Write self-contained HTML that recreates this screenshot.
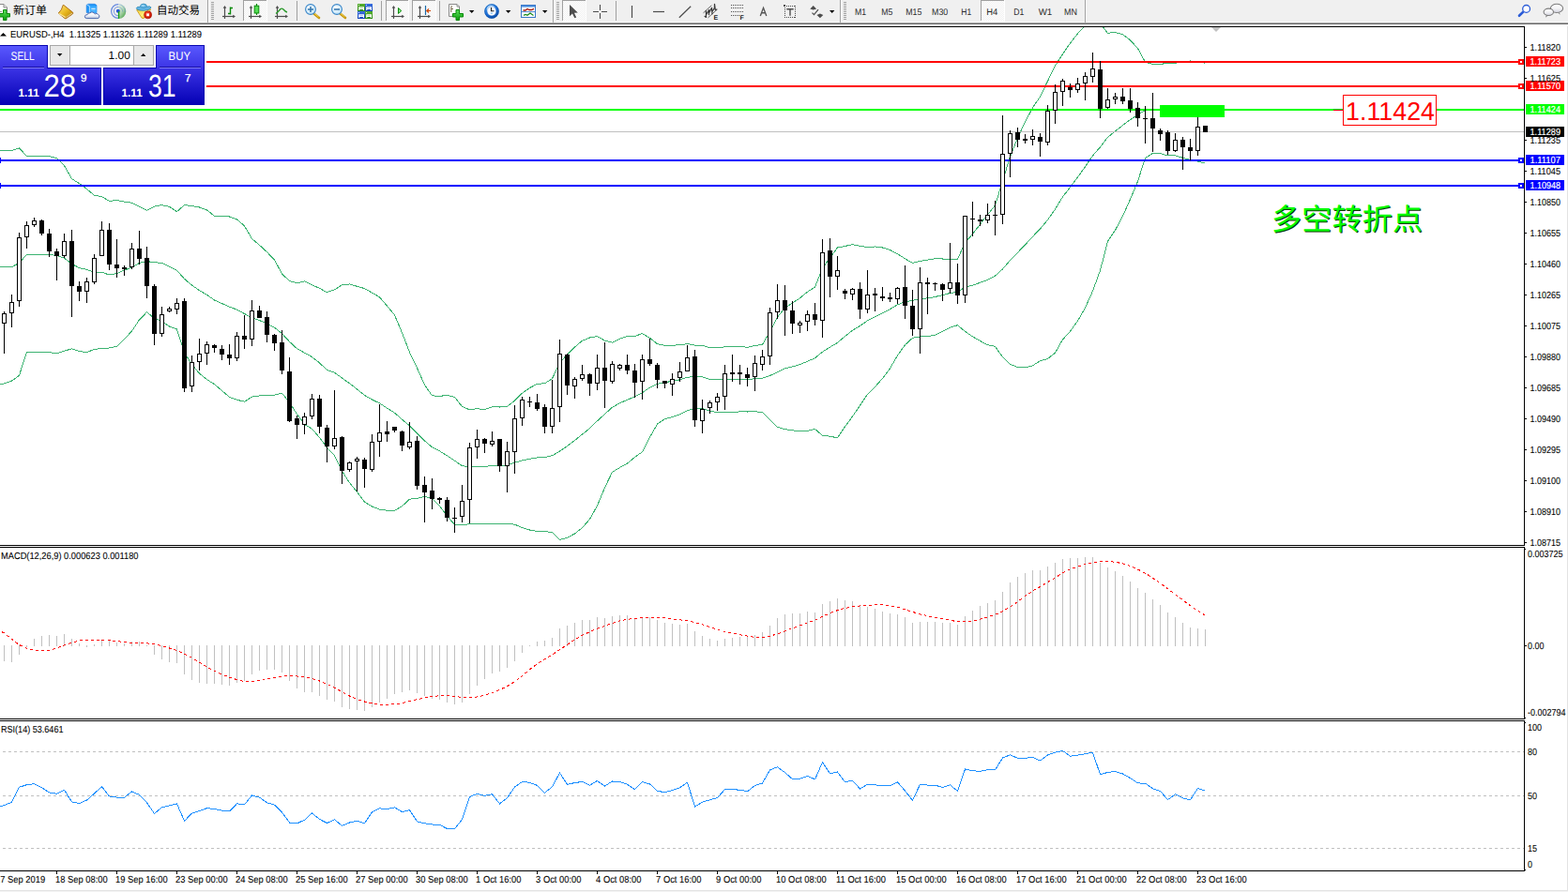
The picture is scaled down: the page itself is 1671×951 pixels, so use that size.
<!DOCTYPE html><html><head><meta charset="utf-8"><title>EURUSD H4</title><style>html,body{margin:0;padding:0;background:#fff}body{width:1671px;height:951px;overflow:hidden;position:relative;font-family:"Liberation Sans",sans-serif}svg{display:block}text{font-family:"Liberation Sans",sans-serif}</style></head><body>
<svg width="1671" height="951" viewBox="0 0 1671 951" style="position:absolute;left:0;top:0" text-rendering="geometricPrecision" font-family="'Liberation Sans', sans-serif">
<defs><clipPath id="cm"><rect x="0" y="29" width="1624" height="552"/></clipPath><clipPath id="cd"><rect x="0" y="584" width="1624" height="181"/></clipPath><clipPath id="cr"><rect x="0" y="769" width="1624" height="159"/></clipPath></defs>
<g clip-path="url(#cm)" shape-rendering="crispEdges">
<polyline points="-3.5,160.8 4.5,160.7 12.5,160.5 20.5,158.0 28.5,166.4 36.5,166.4 44.5,166.4 52.5,166.6 60.5,168.5 68.5,176.7 76.5,190.6 84.5,195.6 92.5,201.5 100.5,208.2 108.5,209.5 116.5,214.5 124.5,213.5 132.5,215.2 140.5,216.2 148.5,220.4 156.5,224.3 164.5,220.1 172.5,218.6 180.5,220.3 188.5,225.7 196.5,218.5 204.5,219.6 212.5,221.0 220.5,223.9 228.5,230.3 236.5,230.7 244.5,231.0 252.5,233.9 260.5,240.8 268.5,254.5 276.5,261.3 284.5,268.7 292.5,277.1 300.5,292.0 308.5,299.5 316.5,301.8 324.5,299.8 332.5,303.8 340.5,307.4 348.5,311.7 356.5,308.8 364.5,303.8 372.5,302.9 380.5,305.3 388.5,307.6 396.5,312.1 404.5,316.8 412.5,326.2 420.5,335.9 428.5,354.8 436.5,375.6 444.5,392.4 452.5,410.4 460.5,421.8 468.5,422.5 476.5,421.2 484.5,423.4 492.5,433.5 500.5,436.8 508.5,435.7 516.5,436.6 524.5,433.8 532.5,434.0 540.5,433.4 548.5,427.1 556.5,419.2 564.5,413.6 572.5,409.3 580.5,408.8 588.5,403.7 596.5,386.4 604.5,378.1 612.5,370.1 620.5,363.3 628.5,360.0 636.5,358.6 644.5,363.2 652.5,365.2 660.5,361.1 668.5,358.4 676.5,358.4 684.5,355.6 692.5,360.3 700.5,366.7 708.5,368.4 716.5,368.2 724.5,367.8 732.5,366.6 740.5,368.2 748.5,368.2 756.5,370.7 764.5,370.4 772.5,369.9 780.5,369.9 788.5,369.4 796.5,370.3 804.5,368.5 812.5,367.3 820.5,353.5 828.5,338.2 836.5,328.1 844.5,323.1 852.5,317.8 860.5,311.1 868.5,306.3 876.5,285.8 884.5,274.9 892.5,264.0 900.5,262.5 908.5,260.6 916.5,262.4 924.5,263.4 932.5,263.0 940.5,264.0 948.5,266.5 956.5,270.7 964.5,275.8 972.5,280.4 980.5,278.4 988.5,277.1 996.5,275.7 1004.5,276.0 1012.5,276.0 1020.5,276.4 1028.5,258.6 1036.5,249.6 1044.5,239.1 1052.5,228.8 1060.5,218.9 1068.5,193.2 1076.5,166.9 1084.5,146.9 1092.5,130.0 1100.5,114.8 1108.5,103.1 1116.5,86.5 1124.5,70.1 1132.5,57.7 1140.5,46.0 1148.5,35.8 1156.5,27.4 1164.5,21.8 1172.5,25.2 1180.5,35.3 1188.5,34.5 1196.5,36.8 1204.5,42.8 1212.5,51.6 1220.5,66.2 1228.5,68.5 1236.5,68.5 1244.5,67.2 1252.5,67.2 1260.5,66.1 1268.5,65.0 1276.5,65.4 1284.5,67.5" fill="none" stroke="#3cb371" stroke-width="1" />
<polyline points="-3.5,284.6 4.5,284.6 12.5,284.6 20.5,280.4 28.5,271.3 36.5,271.3 44.5,271.3 52.5,271.3 60.5,272.6 68.5,275.1 76.5,281.4 84.5,285.6 92.5,287.3 100.5,290.3 108.5,290.3 116.5,293.0 124.5,291.5 132.5,288.1 140.5,285.2 148.5,280.4 156.5,278.6 164.5,279.7 172.5,280.4 180.5,284.2 188.5,288.3 196.5,297.3 204.5,304.1 212.5,309.6 220.5,314.3 228.5,320.0 236.5,323.6 244.5,327.2 252.5,330.1 260.5,334.5 268.5,338.8 276.5,341.6 284.5,345.2 292.5,349.1 300.5,355.6 308.5,364.3 316.5,371.7 324.5,376.1 332.5,380.6 340.5,386.9 348.5,394.6 356.5,397.3 364.5,403.0 372.5,408.8 380.5,414.9 388.5,421.4 396.5,426.0 404.5,429.9 412.5,435.2 420.5,440.1 428.5,447.3 436.5,453.9 444.5,461.9 452.5,469.9 460.5,476.7 468.5,480.9 476.5,485.8 484.5,491.2 492.5,496.7 500.5,497.8 508.5,497.4 516.5,497.7 524.5,496.1 532.5,496.3 540.5,495.9 548.5,493.2 556.5,490.9 564.5,489.3 572.5,487.9 580.5,487.7 588.5,485.7 596.5,481.0 604.5,475.6 612.5,469.6 620.5,463.0 628.5,456.8 636.5,448.8 644.5,441.5 652.5,434.2 660.5,429.8 668.5,426.2 676.5,423.0 684.5,418.6 692.5,413.2 700.5,409.4 708.5,407.6 716.5,406.4 724.5,404.8 732.5,402.1 740.5,401.8 748.5,401.8 756.5,404.4 764.5,405.0 772.5,404.7 780.5,404.7 788.5,404.1 796.5,404.7 804.5,403.7 812.5,403.3 820.5,400.5 828.5,396.7 836.5,392.9 844.5,391.0 852.5,388.7 860.5,385.2 868.5,381.8 876.5,375.1 884.5,370.1 892.5,365.4 900.5,358.6 908.5,352.3 916.5,347.3 924.5,341.9 932.5,337.7 940.5,333.7 948.5,329.6 956.5,324.8 964.5,321.8 972.5,320.3 980.5,318.7 988.5,317.9 996.5,316.5 1004.5,314.6 1012.5,312.5 1020.5,311.5 1028.5,306.0 1036.5,304.2 1044.5,301.3 1052.5,298.3 1060.5,294.1 1068.5,286.9 1076.5,277.5 1084.5,269.3 1092.5,261.0 1100.5,252.3 1108.5,244.0 1116.5,234.5 1124.5,223.1 1132.5,209.9 1140.5,199.6 1148.5,188.9 1156.5,177.8 1164.5,166.0 1172.5,156.8 1180.5,146.3 1188.5,139.9 1196.5,133.6 1204.5,127.6 1212.5,122.5 1220.5,117.3 1228.5,116.0 1236.5,116.0 1244.5,116.6 1252.5,116.6 1260.5,117.2 1268.5,117.8 1276.5,118.7 1284.5,120.8" fill="none" stroke="#3cb371" stroke-width="1" />
<polyline points="-3.5,410.5 4.5,408.9 12.5,406.1 20.5,400.2 28.5,375.2 36.5,375.2 44.5,375.2 52.5,375.6 60.5,376.7 68.5,374.2 76.5,371.8 84.5,374.6 92.5,375.6 100.5,372.5 108.5,371.4 116.5,371.0 124.5,369.3 132.5,361.5 140.5,353.1 148.5,340.9 156.5,332.8 164.5,339.4 172.5,342.2 180.5,348.1 188.5,351.0 196.5,376.0 204.5,388.6 212.5,398.1 220.5,404.6 228.5,409.6 236.5,416.5 244.5,423.3 252.5,426.3 260.5,428.2 268.5,423.1 276.5,421.9 284.5,421.6 292.5,421.1 300.5,419.2 308.5,429.1 316.5,441.6 324.5,452.3 332.5,457.3 340.5,466.4 348.5,477.4 356.5,485.7 364.5,502.2 372.5,514.7 380.5,524.5 388.5,535.1 396.5,540.0 404.5,543.1 412.5,544.2 420.5,544.3 428.5,539.7 436.5,532.1 444.5,531.4 452.5,529.4 460.5,531.6 468.5,539.4 476.5,550.4 484.5,559.1 492.5,559.8 500.5,558.7 508.5,559.0 516.5,558.8 524.5,558.3 532.5,558.5 540.5,558.4 548.5,559.2 556.5,562.6 564.5,565.0 572.5,566.4 580.5,566.5 588.5,567.7 596.5,575.5 604.5,573.2 612.5,569.0 620.5,562.6 628.5,553.6 636.5,539.1 644.5,519.9 652.5,503.3 660.5,498.5 668.5,494.0 676.5,487.5 684.5,481.7 692.5,466.1 700.5,452.1 708.5,446.7 716.5,444.6 724.5,441.9 732.5,437.7 740.5,435.4 748.5,435.4 756.5,438.1 764.5,439.6 772.5,439.5 780.5,439.4 788.5,438.9 796.5,439.0 804.5,438.9 812.5,439.3 820.5,447.5 828.5,455.3 836.5,457.6 844.5,458.9 852.5,459.7 860.5,459.4 868.5,457.4 876.5,464.4 884.5,465.2 892.5,466.8 900.5,454.8 908.5,444.0 916.5,432.3 924.5,420.3 932.5,412.5 940.5,403.5 948.5,392.7 956.5,378.9 964.5,367.7 972.5,360.3 980.5,359.0 988.5,358.7 996.5,357.2 1004.5,353.2 1012.5,349.1 1020.5,346.7 1028.5,353.4 1036.5,358.9 1044.5,363.5 1052.5,367.8 1060.5,369.4 1068.5,380.7 1076.5,388.2 1084.5,391.7 1092.5,391.9 1100.5,389.8 1108.5,384.8 1116.5,382.5 1124.5,376.1 1132.5,362.0 1140.5,353.3 1148.5,342.0 1156.5,328.2 1164.5,310.3 1172.5,288.3 1180.5,257.3 1188.5,245.4 1196.5,230.4 1204.5,212.5 1212.5,193.3 1220.5,168.5 1228.5,163.4 1236.5,163.5 1244.5,166.0 1252.5,165.9 1260.5,168.3 1268.5,170.5 1276.5,172.0 1284.5,174.1" fill="none" stroke="#3cb371" stroke-width="1" />
</g>
<g shape-rendering="crispEdges">
<rect x="0" y="28" width="1625" height="1" fill="#000"/>
<rect x="1624" y="28" width="1" height="901" fill="#000"/>
<rect x="0" y="581" width="1624" height="1" fill="#000"/>
<rect x="0" y="583" width="1624" height="1" fill="#000"/>
<rect x="0" y="766" width="1624" height="1" fill="#000"/>
<rect x="0" y="768" width="1624" height="1" fill="#000"/>
<rect x="0" y="928" width="1625" height="1" fill="#000"/>
<rect x="0" y="140" width="1624" height="1" fill="#c0c0c0"/>
<rect x="220" y="65" width="1404" height="2" fill="#ff0000"/>
<rect x="220" y="91" width="1404" height="2" fill="#ff0000"/>
<rect x="0" y="116" width="1624" height="2" fill="#00ff00"/>
<rect x="0" y="170" width="1624" height="2" fill="#0000ff"/>
<rect x="0" y="197" width="1624" height="2" fill="#0000ff"/>
<rect x="1618" y="63" width="6" height="6" fill="#ff0000"/>
<rect x="1620" y="65" width="2" height="2" fill="#fff"/>
<rect x="1618" y="89" width="6" height="6" fill="#ff0000"/>
<rect x="1620" y="91" width="2" height="2" fill="#fff"/>
<rect x="1618" y="168" width="6" height="6" fill="#0000ff"/>
<rect x="1620" y="170" width="2" height="2" fill="#fff"/>
<rect x="1618" y="195" width="6" height="6" fill="#0000ff"/>
<rect x="1620" y="197" width="2" height="2" fill="#fff"/>
<rect x="-5" y="168" width="6" height="6" fill="#0000ff"/>
<rect x="-3" y="170" width="2" height="2" fill="#fff"/>
<rect x="-5" y="195" width="6" height="6" fill="#0000ff"/>
<rect x="-3" y="197" width="2" height="2" fill="#fff"/>
<rect x="1236" y="112" width="69" height="13" fill="#00ff00"/>
<rect x="1421" y="117" width="10" height="1" fill="#ff0000"/>
<rect x="1431" y="101" width="100" height="33" fill="#ff0000"/>
<rect x="1432" y="102" width="98" height="31" fill="#fff"/>
</g>
<g shape-rendering="crispEdges">
<rect x="4" y="332" width="1" height="45" fill="#000"/>
<rect x="2" y="334" width="5" height="11" fill="#000"/>
<rect x="3" y="335" width="3" height="9" fill="#fff"/>
<rect x="12" y="314" width="1" height="35" fill="#000"/>
<rect x="10" y="322" width="5" height="12" fill="#000"/>
<rect x="11" y="323" width="3" height="10" fill="#fff"/>
<rect x="20" y="248" width="1" height="79" fill="#000"/>
<rect x="18" y="253" width="5" height="68" fill="#000"/>
<rect x="19" y="254" width="3" height="66" fill="#fff"/>
<rect x="28" y="236" width="1" height="29" fill="#000"/>
<rect x="26" y="240" width="5" height="13" fill="#000"/>
<rect x="27" y="241" width="3" height="11" fill="#fff"/>
<rect x="36" y="232" width="1" height="10" fill="#000"/>
<rect x="34" y="235" width="5" height="5" fill="#000"/>
<rect x="35" y="236" width="3" height="3" fill="#fff"/>
<rect x="44" y="234" width="1" height="17" fill="#000"/>
<rect x="42" y="235" width="5" height="14" fill="#000"/>
<rect x="52" y="244" width="1" height="30" fill="#000"/>
<rect x="50" y="249" width="5" height="19" fill="#000"/>
<rect x="60" y="265" width="1" height="34" fill="#000"/>
<rect x="58" y="268" width="5" height="5" fill="#000"/>
<rect x="68" y="249" width="1" height="26" fill="#000"/>
<rect x="66" y="257" width="5" height="16" fill="#000"/>
<rect x="67" y="258" width="3" height="14" fill="#fff"/>
<rect x="76" y="245" width="1" height="93" fill="#000"/>
<rect x="74" y="257" width="5" height="48" fill="#000"/>
<rect x="84" y="300" width="1" height="21" fill="#000"/>
<rect x="82" y="305" width="5" height="6" fill="#000"/>
<rect x="92" y="296" width="1" height="27" fill="#000"/>
<rect x="90" y="300" width="5" height="11" fill="#000"/>
<rect x="91" y="301" width="3" height="9" fill="#fff"/>
<rect x="100" y="271" width="1" height="32" fill="#000"/>
<rect x="98" y="275" width="5" height="26" fill="#000"/>
<rect x="99" y="276" width="3" height="24" fill="#fff"/>
<rect x="108" y="236" width="1" height="37" fill="#000"/>
<rect x="106" y="245" width="5" height="28" fill="#000"/>
<rect x="107" y="246" width="3" height="26" fill="#fff"/>
<rect x="116" y="238" width="1" height="50" fill="#000"/>
<rect x="114" y="245" width="5" height="37" fill="#000"/>
<rect x="124" y="255" width="1" height="41" fill="#000"/>
<rect x="122" y="282" width="5" height="4" fill="#000"/>
<rect x="132" y="283" width="1" height="11" fill="#000"/>
<rect x="130" y="285" width="5" height="2" fill="#000"/>
<rect x="140" y="259" width="1" height="28" fill="#000"/>
<rect x="138" y="265" width="5" height="20" fill="#000"/>
<rect x="139" y="266" width="3" height="18" fill="#fff"/>
<rect x="148" y="246" width="1" height="36" fill="#000"/>
<rect x="146" y="265" width="5" height="11" fill="#000"/>
<rect x="156" y="263" width="1" height="55" fill="#000"/>
<rect x="154" y="275" width="5" height="30" fill="#000"/>
<rect x="164" y="303" width="1" height="65" fill="#000"/>
<rect x="162" y="305" width="5" height="51" fill="#000"/>
<rect x="172" y="327" width="1" height="32" fill="#000"/>
<rect x="170" y="335" width="5" height="21" fill="#000"/>
<rect x="171" y="336" width="3" height="19" fill="#fff"/>
<rect x="180" y="327" width="1" height="6" fill="#000"/>
<rect x="178" y="329" width="5" height="3" fill="#000"/>
<rect x="179" y="330" width="3" height="1" fill="#fff"/>
<rect x="188" y="318" width="1" height="17" fill="#000"/>
<rect x="186" y="323" width="5" height="7" fill="#000"/>
<rect x="187" y="324" width="3" height="5" fill="#fff"/>
<rect x="196" y="318" width="1" height="100" fill="#000"/>
<rect x="194" y="321" width="5" height="93" fill="#000"/>
<rect x="204" y="379" width="1" height="39" fill="#000"/>
<rect x="202" y="386" width="5" height="26" fill="#000"/>
<rect x="203" y="387" width="3" height="24" fill="#fff"/>
<rect x="212" y="361" width="1" height="34" fill="#000"/>
<rect x="210" y="377" width="5" height="9" fill="#000"/>
<rect x="211" y="378" width="3" height="7" fill="#fff"/>
<rect x="220" y="364" width="1" height="25" fill="#000"/>
<rect x="218" y="367" width="5" height="10" fill="#000"/>
<rect x="219" y="368" width="3" height="8" fill="#fff"/>
<rect x="228" y="367" width="1" height="9" fill="#000"/>
<rect x="226" y="368" width="5" height="3" fill="#000"/>
<rect x="236" y="368" width="1" height="16" fill="#000"/>
<rect x="234" y="372" width="5" height="6" fill="#000"/>
<rect x="244" y="367" width="1" height="22" fill="#000"/>
<rect x="242" y="378" width="5" height="4" fill="#000"/>
<rect x="252" y="354" width="1" height="31" fill="#000"/>
<rect x="250" y="358" width="5" height="24" fill="#000"/>
<rect x="251" y="359" width="3" height="22" fill="#fff"/>
<rect x="260" y="336" width="1" height="36" fill="#000"/>
<rect x="258" y="358" width="5" height="4" fill="#000"/>
<rect x="268" y="320" width="1" height="49" fill="#000"/>
<rect x="266" y="331" width="5" height="31" fill="#000"/>
<rect x="267" y="332" width="3" height="29" fill="#fff"/>
<rect x="276" y="326" width="1" height="13" fill="#000"/>
<rect x="274" y="331" width="5" height="8" fill="#000"/>
<rect x="284" y="332" width="1" height="33" fill="#000"/>
<rect x="282" y="338" width="5" height="19" fill="#000"/>
<rect x="292" y="356" width="1" height="18" fill="#000"/>
<rect x="290" y="357" width="5" height="9" fill="#000"/>
<rect x="300" y="352" width="1" height="47" fill="#000"/>
<rect x="298" y="365" width="5" height="30" fill="#000"/>
<rect x="308" y="381" width="1" height="69" fill="#000"/>
<rect x="306" y="396" width="5" height="53" fill="#000"/>
<rect x="316" y="443" width="1" height="25" fill="#000"/>
<rect x="314" y="446" width="5" height="7" fill="#000"/>
<rect x="324" y="440" width="1" height="23" fill="#000"/>
<rect x="322" y="444" width="5" height="9" fill="#000"/>
<rect x="323" y="445" width="3" height="7" fill="#fff"/>
<rect x="332" y="420" width="1" height="27" fill="#000"/>
<rect x="330" y="425" width="5" height="19" fill="#000"/>
<rect x="331" y="426" width="3" height="17" fill="#fff"/>
<rect x="340" y="421" width="1" height="41" fill="#000"/>
<rect x="338" y="425" width="5" height="30" fill="#000"/>
<rect x="348" y="453" width="1" height="40" fill="#000"/>
<rect x="346" y="456" width="5" height="20" fill="#000"/>
<rect x="356" y="416" width="1" height="63" fill="#000"/>
<rect x="354" y="467" width="5" height="9" fill="#000"/>
<rect x="355" y="468" width="3" height="7" fill="#fff"/>
<rect x="364" y="465" width="1" height="51" fill="#000"/>
<rect x="362" y="466" width="5" height="36" fill="#000"/>
<rect x="372" y="492" width="1" height="11" fill="#000"/>
<rect x="370" y="493" width="5" height="8" fill="#000"/>
<rect x="371" y="494" width="3" height="6" fill="#fff"/>
<rect x="380" y="487" width="1" height="37" fill="#000"/>
<rect x="378" y="489" width="5" height="3" fill="#000"/>
<rect x="379" y="490" width="3" height="1" fill="#fff"/>
<rect x="388" y="488" width="1" height="32" fill="#000"/>
<rect x="386" y="490" width="5" height="10" fill="#000"/>
<rect x="396" y="463" width="1" height="40" fill="#000"/>
<rect x="394" y="471" width="5" height="30" fill="#000"/>
<rect x="395" y="472" width="3" height="28" fill="#fff"/>
<rect x="404" y="431" width="1" height="56" fill="#000"/>
<rect x="402" y="461" width="5" height="10" fill="#000"/>
<rect x="403" y="462" width="3" height="8" fill="#fff"/>
<rect x="412" y="449" width="1" height="22" fill="#000"/>
<rect x="410" y="460" width="5" height="3" fill="#000"/>
<rect x="420" y="455" width="1" height="6" fill="#000"/>
<rect x="418" y="455" width="5" height="4" fill="#000"/>
<rect x="428" y="459" width="1" height="22" fill="#000"/>
<rect x="426" y="460" width="5" height="15" fill="#000"/>
<rect x="436" y="450" width="1" height="29" fill="#000"/>
<rect x="434" y="471" width="5" height="6" fill="#000"/>
<rect x="435" y="472" width="3" height="4" fill="#fff"/>
<rect x="444" y="465" width="1" height="57" fill="#000"/>
<rect x="442" y="470" width="5" height="48" fill="#000"/>
<rect x="452" y="508" width="1" height="49" fill="#000"/>
<rect x="450" y="517" width="5" height="8" fill="#000"/>
<rect x="460" y="510" width="1" height="33" fill="#000"/>
<rect x="458" y="523" width="5" height="9" fill="#000"/>
<rect x="468" y="530" width="1" height="7" fill="#000"/>
<rect x="466" y="531" width="5" height="2" fill="#000"/>
<rect x="476" y="530" width="1" height="26" fill="#000"/>
<rect x="474" y="533" width="5" height="19" fill="#000"/>
<rect x="484" y="541" width="1" height="27" fill="#000"/>
<rect x="482" y="552" width="5" height="1" fill="#000"/>
<rect x="492" y="517" width="1" height="40" fill="#000"/>
<rect x="490" y="534" width="5" height="17" fill="#000"/>
<rect x="491" y="535" width="3" height="15" fill="#fff"/>
<rect x="500" y="472" width="1" height="86" fill="#000"/>
<rect x="498" y="477" width="5" height="56" fill="#000"/>
<rect x="499" y="478" width="3" height="54" fill="#fff"/>
<rect x="508" y="458" width="1" height="31" fill="#000"/>
<rect x="506" y="468" width="5" height="9" fill="#000"/>
<rect x="507" y="469" width="3" height="7" fill="#fff"/>
<rect x="516" y="467" width="1" height="16" fill="#000"/>
<rect x="514" y="468" width="5" height="5" fill="#000"/>
<rect x="524" y="460" width="1" height="16" fill="#000"/>
<rect x="522" y="470" width="5" height="4" fill="#000"/>
<rect x="523" y="471" width="3" height="2" fill="#fff"/>
<rect x="532" y="468" width="1" height="35" fill="#000"/>
<rect x="530" y="468" width="5" height="29" fill="#000"/>
<rect x="540" y="471" width="1" height="54" fill="#000"/>
<rect x="538" y="481" width="5" height="16" fill="#000"/>
<rect x="539" y="482" width="3" height="14" fill="#fff"/>
<rect x="548" y="432" width="1" height="73" fill="#000"/>
<rect x="546" y="446" width="5" height="36" fill="#000"/>
<rect x="547" y="447" width="3" height="34" fill="#fff"/>
<rect x="556" y="423" width="1" height="31" fill="#000"/>
<rect x="554" y="426" width="5" height="20" fill="#000"/>
<rect x="555" y="427" width="3" height="18" fill="#fff"/>
<rect x="564" y="423" width="1" height="11" fill="#000"/>
<rect x="562" y="428" width="5" height="1" fill="#000"/>
<rect x="572" y="420" width="1" height="18" fill="#000"/>
<rect x="570" y="429" width="5" height="7" fill="#000"/>
<rect x="580" y="431" width="1" height="31" fill="#000"/>
<rect x="578" y="434" width="5" height="21" fill="#000"/>
<rect x="588" y="405" width="1" height="57" fill="#000"/>
<rect x="586" y="435" width="5" height="20" fill="#000"/>
<rect x="587" y="436" width="3" height="18" fill="#fff"/>
<rect x="596" y="362" width="1" height="88" fill="#000"/>
<rect x="594" y="377" width="5" height="57" fill="#000"/>
<rect x="595" y="378" width="3" height="55" fill="#fff"/>
<rect x="604" y="377" width="1" height="44" fill="#000"/>
<rect x="602" y="378" width="5" height="33" fill="#000"/>
<rect x="612" y="402" width="1" height="23" fill="#000"/>
<rect x="610" y="404" width="5" height="8" fill="#000"/>
<rect x="611" y="405" width="3" height="6" fill="#fff"/>
<rect x="620" y="389" width="1" height="17" fill="#000"/>
<rect x="618" y="399" width="5" height="5" fill="#000"/>
<rect x="619" y="400" width="3" height="3" fill="#fff"/>
<rect x="628" y="398" width="1" height="24" fill="#000"/>
<rect x="626" y="399" width="5" height="10" fill="#000"/>
<rect x="636" y="378" width="1" height="38" fill="#000"/>
<rect x="634" y="392" width="5" height="17" fill="#000"/>
<rect x="635" y="393" width="3" height="15" fill="#fff"/>
<rect x="644" y="365" width="1" height="70" fill="#000"/>
<rect x="642" y="392" width="5" height="14" fill="#000"/>
<rect x="652" y="385" width="1" height="24" fill="#000"/>
<rect x="650" y="388" width="5" height="19" fill="#000"/>
<rect x="651" y="389" width="3" height="17" fill="#fff"/>
<rect x="660" y="388" width="1" height="7" fill="#000"/>
<rect x="658" y="389" width="5" height="4" fill="#000"/>
<rect x="659" y="390" width="3" height="2" fill="#fff"/>
<rect x="668" y="378" width="1" height="21" fill="#000"/>
<rect x="666" y="389" width="5" height="6" fill="#000"/>
<rect x="676" y="388" width="1" height="36" fill="#000"/>
<rect x="674" y="395" width="5" height="13" fill="#000"/>
<rect x="684" y="378" width="1" height="48" fill="#000"/>
<rect x="682" y="383" width="5" height="24" fill="#000"/>
<rect x="683" y="384" width="3" height="22" fill="#fff"/>
<rect x="692" y="361" width="1" height="29" fill="#000"/>
<rect x="690" y="383" width="5" height="5" fill="#000"/>
<rect x="700" y="387" width="1" height="27" fill="#000"/>
<rect x="698" y="389" width="5" height="16" fill="#000"/>
<rect x="708" y="406" width="1" height="8" fill="#000"/>
<rect x="706" y="406" width="5" height="3" fill="#000"/>
<rect x="716" y="398" width="1" height="24" fill="#000"/>
<rect x="714" y="404" width="5" height="6" fill="#000"/>
<rect x="715" y="405" width="3" height="4" fill="#fff"/>
<rect x="724" y="386" width="1" height="21" fill="#000"/>
<rect x="722" y="396" width="5" height="7" fill="#000"/>
<rect x="723" y="397" width="3" height="5" fill="#fff"/>
<rect x="732" y="368" width="1" height="28" fill="#000"/>
<rect x="730" y="381" width="5" height="15" fill="#000"/>
<rect x="731" y="382" width="3" height="13" fill="#fff"/>
<rect x="740" y="373" width="1" height="82" fill="#000"/>
<rect x="738" y="380" width="5" height="68" fill="#000"/>
<rect x="748" y="426" width="1" height="36" fill="#000"/>
<rect x="746" y="436" width="5" height="13" fill="#000"/>
<rect x="747" y="437" width="3" height="11" fill="#fff"/>
<rect x="756" y="427" width="1" height="14" fill="#000"/>
<rect x="754" y="429" width="5" height="6" fill="#000"/>
<rect x="755" y="430" width="3" height="4" fill="#fff"/>
<rect x="764" y="419" width="1" height="19" fill="#000"/>
<rect x="762" y="423" width="5" height="6" fill="#000"/>
<rect x="763" y="424" width="3" height="4" fill="#fff"/>
<rect x="772" y="389" width="1" height="48" fill="#000"/>
<rect x="770" y="398" width="5" height="25" fill="#000"/>
<rect x="771" y="399" width="3" height="23" fill="#fff"/>
<rect x="780" y="378" width="1" height="29" fill="#000"/>
<rect x="778" y="397" width="5" height="2" fill="#000"/>
<rect x="788" y="389" width="1" height="21" fill="#000"/>
<rect x="786" y="397" width="5" height="2" fill="#000"/>
<rect x="796" y="392" width="1" height="20" fill="#000"/>
<rect x="794" y="399" width="5" height="4" fill="#000"/>
<rect x="804" y="379" width="1" height="38" fill="#000"/>
<rect x="802" y="387" width="5" height="15" fill="#000"/>
<rect x="803" y="388" width="3" height="13" fill="#fff"/>
<rect x="812" y="373" width="1" height="22" fill="#000"/>
<rect x="810" y="380" width="5" height="9" fill="#000"/>
<rect x="811" y="381" width="3" height="7" fill="#fff"/>
<rect x="820" y="328" width="1" height="61" fill="#000"/>
<rect x="818" y="333" width="5" height="47" fill="#000"/>
<rect x="819" y="334" width="3" height="45" fill="#fff"/>
<rect x="828" y="303" width="1" height="37" fill="#000"/>
<rect x="826" y="320" width="5" height="13" fill="#000"/>
<rect x="827" y="321" width="3" height="11" fill="#fff"/>
<rect x="836" y="304" width="1" height="54" fill="#000"/>
<rect x="834" y="320" width="5" height="11" fill="#000"/>
<rect x="844" y="321" width="1" height="35" fill="#000"/>
<rect x="842" y="331" width="5" height="14" fill="#000"/>
<rect x="852" y="342" width="1" height="13" fill="#000"/>
<rect x="850" y="344" width="5" height="3" fill="#000"/>
<rect x="851" y="345" width="3" height="1" fill="#fff"/>
<rect x="860" y="331" width="1" height="22" fill="#000"/>
<rect x="858" y="335" width="5" height="8" fill="#000"/>
<rect x="859" y="336" width="3" height="6" fill="#fff"/>
<rect x="868" y="323" width="1" height="24" fill="#000"/>
<rect x="866" y="335" width="5" height="6" fill="#000"/>
<rect x="876" y="255" width="1" height="105" fill="#000"/>
<rect x="874" y="269" width="5" height="73" fill="#000"/>
<rect x="875" y="270" width="3" height="71" fill="#fff"/>
<rect x="884" y="254" width="1" height="63" fill="#000"/>
<rect x="882" y="267" width="5" height="28" fill="#000"/>
<rect x="892" y="273" width="1" height="36" fill="#000"/>
<rect x="890" y="288" width="5" height="7" fill="#000"/>
<rect x="891" y="289" width="3" height="5" fill="#fff"/>
<rect x="900" y="308" width="1" height="11" fill="#000"/>
<rect x="898" y="310" width="5" height="3" fill="#000"/>
<rect x="908" y="307" width="1" height="13" fill="#000"/>
<rect x="906" y="308" width="5" height="6" fill="#000"/>
<rect x="907" y="309" width="3" height="4" fill="#fff"/>
<rect x="916" y="301" width="1" height="39" fill="#000"/>
<rect x="914" y="308" width="5" height="22" fill="#000"/>
<rect x="924" y="288" width="1" height="46" fill="#000"/>
<rect x="922" y="314" width="5" height="16" fill="#000"/>
<rect x="923" y="315" width="3" height="14" fill="#fff"/>
<rect x="932" y="307" width="1" height="25" fill="#000"/>
<rect x="930" y="313" width="5" height="2" fill="#000"/>
<rect x="940" y="306" width="1" height="15" fill="#000"/>
<rect x="938" y="316" width="5" height="2" fill="#000"/>
<rect x="948" y="312" width="1" height="10" fill="#000"/>
<rect x="946" y="317" width="5" height="2" fill="#000"/>
<rect x="956" y="306" width="1" height="18" fill="#000"/>
<rect x="954" y="307" width="5" height="12" fill="#000"/>
<rect x="955" y="308" width="3" height="10" fill="#fff"/>
<rect x="964" y="283" width="1" height="57" fill="#000"/>
<rect x="962" y="306" width="5" height="20" fill="#000"/>
<rect x="972" y="309" width="1" height="49" fill="#000"/>
<rect x="970" y="326" width="5" height="25" fill="#000"/>
<rect x="980" y="285" width="1" height="92" fill="#000"/>
<rect x="978" y="301" width="5" height="50" fill="#000"/>
<rect x="979" y="302" width="3" height="48" fill="#fff"/>
<rect x="988" y="296" width="1" height="39" fill="#000"/>
<rect x="986" y="301" width="5" height="2" fill="#000"/>
<rect x="996" y="301" width="1" height="9" fill="#000"/>
<rect x="994" y="302" width="5" height="1" fill="#000"/>
<rect x="1004" y="302" width="1" height="19" fill="#000"/>
<rect x="1002" y="303" width="5" height="6" fill="#000"/>
<rect x="1012" y="259" width="1" height="54" fill="#000"/>
<rect x="1010" y="301" width="5" height="7" fill="#000"/>
<rect x="1011" y="302" width="3" height="5" fill="#fff"/>
<rect x="1020" y="281" width="1" height="43" fill="#000"/>
<rect x="1018" y="301" width="5" height="14" fill="#000"/>
<rect x="1028" y="230" width="1" height="93" fill="#000"/>
<rect x="1026" y="230" width="5" height="85" fill="#000"/>
<rect x="1027" y="231" width="3" height="83" fill="#fff"/>
<rect x="1036" y="215" width="1" height="37" fill="#000"/>
<rect x="1034" y="233" width="5" height="1" fill="#000"/>
<rect x="1044" y="229" width="1" height="12" fill="#000"/>
<rect x="1042" y="234" width="5" height="2" fill="#000"/>
<rect x="1052" y="217" width="1" height="21" fill="#000"/>
<rect x="1050" y="229" width="5" height="6" fill="#000"/>
<rect x="1051" y="230" width="3" height="4" fill="#fff"/>
<rect x="1060" y="214" width="1" height="37" fill="#000"/>
<rect x="1058" y="229" width="5" height="1" fill="#000"/>
<rect x="1068" y="123" width="1" height="116" fill="#000"/>
<rect x="1066" y="164" width="5" height="65" fill="#000"/>
<rect x="1067" y="165" width="3" height="63" fill="#fff"/>
<rect x="1076" y="139" width="1" height="50" fill="#000"/>
<rect x="1074" y="142" width="5" height="22" fill="#000"/>
<rect x="1075" y="143" width="3" height="20" fill="#fff"/>
<rect x="1084" y="136" width="1" height="21" fill="#000"/>
<rect x="1082" y="141" width="5" height="8" fill="#000"/>
<rect x="1092" y="143" width="1" height="10" fill="#000"/>
<rect x="1090" y="148" width="5" height="2" fill="#000"/>
<rect x="1100" y="138" width="1" height="17" fill="#000"/>
<rect x="1098" y="145" width="5" height="4" fill="#000"/>
<rect x="1099" y="146" width="3" height="2" fill="#fff"/>
<rect x="1108" y="142" width="1" height="25" fill="#000"/>
<rect x="1106" y="146" width="5" height="5" fill="#000"/>
<rect x="1116" y="112" width="1" height="43" fill="#000"/>
<rect x="1114" y="118" width="5" height="34" fill="#000"/>
<rect x="1115" y="119" width="3" height="32" fill="#fff"/>
<rect x="1124" y="90" width="1" height="42" fill="#000"/>
<rect x="1122" y="98" width="5" height="20" fill="#000"/>
<rect x="1123" y="99" width="3" height="18" fill="#fff"/>
<rect x="1132" y="84" width="1" height="29" fill="#000"/>
<rect x="1130" y="86" width="5" height="12" fill="#000"/>
<rect x="1131" y="87" width="3" height="10" fill="#fff"/>
<rect x="1140" y="89" width="1" height="15" fill="#000"/>
<rect x="1138" y="93" width="5" height="3" fill="#000"/>
<rect x="1148" y="83" width="1" height="16" fill="#000"/>
<rect x="1146" y="89" width="5" height="7" fill="#000"/>
<rect x="1147" y="90" width="3" height="5" fill="#fff"/>
<rect x="1156" y="77" width="1" height="30" fill="#000"/>
<rect x="1154" y="81" width="5" height="8" fill="#000"/>
<rect x="1155" y="82" width="3" height="6" fill="#fff"/>
<rect x="1164" y="56" width="1" height="32" fill="#000"/>
<rect x="1162" y="73" width="5" height="9" fill="#000"/>
<rect x="1163" y="74" width="3" height="7" fill="#fff"/>
<rect x="1172" y="65" width="1" height="61" fill="#000"/>
<rect x="1170" y="74" width="5" height="42" fill="#000"/>
<rect x="1180" y="94" width="1" height="22" fill="#000"/>
<rect x="1178" y="106" width="5" height="9" fill="#000"/>
<rect x="1179" y="107" width="3" height="7" fill="#fff"/>
<rect x="1188" y="99" width="1" height="12" fill="#000"/>
<rect x="1186" y="103" width="5" height="3" fill="#000"/>
<rect x="1187" y="104" width="3" height="1" fill="#fff"/>
<rect x="1196" y="94" width="1" height="17" fill="#000"/>
<rect x="1194" y="103" width="5" height="5" fill="#000"/>
<rect x="1204" y="94" width="1" height="26" fill="#000"/>
<rect x="1202" y="107" width="5" height="9" fill="#000"/>
<rect x="1212" y="109" width="1" height="26" fill="#000"/>
<rect x="1210" y="115" width="5" height="11" fill="#000"/>
<rect x="1220" y="113" width="1" height="40" fill="#000"/>
<rect x="1218" y="126" width="5" height="1" fill="#000"/>
<rect x="1228" y="99" width="1" height="63" fill="#000"/>
<rect x="1226" y="126" width="5" height="11" fill="#000"/>
<rect x="1236" y="137" width="1" height="13" fill="#000"/>
<rect x="1234" y="139" width="5" height="4" fill="#000"/>
<rect x="1244" y="139" width="1" height="26" fill="#000"/>
<rect x="1242" y="141" width="5" height="20" fill="#000"/>
<rect x="1252" y="142" width="1" height="20" fill="#000"/>
<rect x="1250" y="149" width="5" height="12" fill="#000"/>
<rect x="1251" y="150" width="3" height="10" fill="#fff"/>
<rect x="1260" y="146" width="1" height="35" fill="#000"/>
<rect x="1258" y="149" width="5" height="8" fill="#000"/>
<rect x="1268" y="148" width="1" height="23" fill="#000"/>
<rect x="1266" y="157" width="5" height="4" fill="#000"/>
<rect x="1276" y="125" width="1" height="41" fill="#000"/>
<rect x="1274" y="135" width="5" height="26" fill="#000"/>
<rect x="1275" y="136" width="3" height="24" fill="#fff"/>
<rect x="1284" y="134" width="1" height="7" fill="#000"/>
<rect x="1282" y="134" width="5" height="7" fill="#000"/>
</g>
<g clip-path="url(#cd)" shape-rendering="crispEdges">
<rect x="4" y="688" width="1" height="17" fill="#c0c0c0"/>
<rect x="12" y="688" width="1" height="18" fill="#c0c0c0"/>
<rect x="20" y="688" width="1" height="10" fill="#c0c0c0"/>
<rect x="28" y="688" width="1" height="2" fill="#c0c0c0"/>
<rect x="36" y="681" width="1" height="8" fill="#c0c0c0"/>
<rect x="44" y="678" width="1" height="11" fill="#c0c0c0"/>
<rect x="52" y="677" width="1" height="12" fill="#c0c0c0"/>
<rect x="60" y="678" width="1" height="11" fill="#c0c0c0"/>
<rect x="68" y="676" width="1" height="13" fill="#c0c0c0"/>
<rect x="76" y="681" width="1" height="8" fill="#c0c0c0"/>
<rect x="84" y="686" width="1" height="3" fill="#c0c0c0"/>
<rect x="92" y="688" width="1" height="2" fill="#c0c0c0"/>
<rect x="100" y="687" width="1" height="2" fill="#c0c0c0"/>
<rect x="108" y="682" width="1" height="7" fill="#c0c0c0"/>
<rect x="116" y="683" width="1" height="6" fill="#c0c0c0"/>
<rect x="124" y="685" width="1" height="4" fill="#c0c0c0"/>
<rect x="132" y="686" width="1" height="3" fill="#c0c0c0"/>
<rect x="140" y="684" width="1" height="5" fill="#c0c0c0"/>
<rect x="148" y="684" width="1" height="5" fill="#c0c0c0"/>
<rect x="156" y="688" width="1" height="1" fill="#c0c0c0"/>
<rect x="164" y="688" width="1" height="10" fill="#c0c0c0"/>
<rect x="172" y="688" width="1" height="15" fill="#c0c0c0"/>
<rect x="180" y="688" width="1" height="18" fill="#c0c0c0"/>
<rect x="188" y="688" width="1" height="19" fill="#c0c0c0"/>
<rect x="196" y="688" width="1" height="31" fill="#c0c0c0"/>
<rect x="204" y="688" width="1" height="37" fill="#c0c0c0"/>
<rect x="212" y="688" width="1" height="40" fill="#c0c0c0"/>
<rect x="220" y="688" width="1" height="41" fill="#c0c0c0"/>
<rect x="228" y="688" width="1" height="41" fill="#c0c0c0"/>
<rect x="236" y="688" width="1" height="42" fill="#c0c0c0"/>
<rect x="244" y="688" width="1" height="43" fill="#c0c0c0"/>
<rect x="252" y="688" width="1" height="40" fill="#c0c0c0"/>
<rect x="260" y="688" width="1" height="38" fill="#c0c0c0"/>
<rect x="268" y="688" width="1" height="31" fill="#c0c0c0"/>
<rect x="276" y="688" width="1" height="27" fill="#c0c0c0"/>
<rect x="284" y="688" width="1" height="26" fill="#c0c0c0"/>
<rect x="292" y="688" width="1" height="26" fill="#c0c0c0"/>
<rect x="300" y="688" width="1" height="29" fill="#c0c0c0"/>
<rect x="308" y="688" width="1" height="38" fill="#c0c0c0"/>
<rect x="316" y="688" width="1" height="46" fill="#c0c0c0"/>
<rect x="324" y="688" width="1" height="50" fill="#c0c0c0"/>
<rect x="332" y="688" width="1" height="50" fill="#c0c0c0"/>
<rect x="340" y="688" width="1" height="54" fill="#c0c0c0"/>
<rect x="348" y="688" width="1" height="58" fill="#c0c0c0"/>
<rect x="356" y="688" width="1" height="60" fill="#c0c0c0"/>
<rect x="364" y="688" width="1" height="66" fill="#c0c0c0"/>
<rect x="372" y="688" width="1" height="68" fill="#c0c0c0"/>
<rect x="380" y="688" width="1" height="69" fill="#c0c0c0"/>
<rect x="388" y="688" width="1" height="70" fill="#c0c0c0"/>
<rect x="396" y="688" width="1" height="66" fill="#c0c0c0"/>
<rect x="404" y="688" width="1" height="61" fill="#c0c0c0"/>
<rect x="412" y="688" width="1" height="57" fill="#c0c0c0"/>
<rect x="420" y="688" width="1" height="52" fill="#c0c0c0"/>
<rect x="428" y="688" width="1" height="50" fill="#c0c0c0"/>
<rect x="436" y="688" width="1" height="48" fill="#c0c0c0"/>
<rect x="444" y="688" width="1" height="51" fill="#c0c0c0"/>
<rect x="452" y="688" width="1" height="54" fill="#c0c0c0"/>
<rect x="460" y="688" width="1" height="57" fill="#c0c0c0"/>
<rect x="468" y="688" width="1" height="58" fill="#c0c0c0"/>
<rect x="476" y="688" width="1" height="61" fill="#c0c0c0"/>
<rect x="484" y="688" width="1" height="63" fill="#c0c0c0"/>
<rect x="492" y="688" width="1" height="61" fill="#c0c0c0"/>
<rect x="500" y="688" width="1" height="52" fill="#c0c0c0"/>
<rect x="508" y="688" width="1" height="43" fill="#c0c0c0"/>
<rect x="516" y="688" width="1" height="36" fill="#c0c0c0"/>
<rect x="524" y="688" width="1" height="30" fill="#c0c0c0"/>
<rect x="532" y="688" width="1" height="28" fill="#c0c0c0"/>
<rect x="540" y="688" width="1" height="24" fill="#c0c0c0"/>
<rect x="548" y="688" width="1" height="17" fill="#c0c0c0"/>
<rect x="556" y="688" width="1" height="8" fill="#c0c0c0"/>
<rect x="564" y="688" width="1" height="1" fill="#c0c0c0"/>
<rect x="572" y="684" width="1" height="5" fill="#c0c0c0"/>
<rect x="580" y="683" width="1" height="6" fill="#c0c0c0"/>
<rect x="588" y="680" width="1" height="9" fill="#c0c0c0"/>
<rect x="596" y="670" width="1" height="19" fill="#c0c0c0"/>
<rect x="604" y="667" width="1" height="22" fill="#c0c0c0"/>
<rect x="612" y="664" width="1" height="25" fill="#c0c0c0"/>
<rect x="620" y="661" width="1" height="28" fill="#c0c0c0"/>
<rect x="628" y="661" width="1" height="28" fill="#c0c0c0"/>
<rect x="636" y="658" width="1" height="31" fill="#c0c0c0"/>
<rect x="644" y="659" width="1" height="30" fill="#c0c0c0"/>
<rect x="652" y="657" width="1" height="32" fill="#c0c0c0"/>
<rect x="660" y="656" width="1" height="33" fill="#c0c0c0"/>
<rect x="668" y="656" width="1" height="33" fill="#c0c0c0"/>
<rect x="676" y="659" width="1" height="30" fill="#c0c0c0"/>
<rect x="684" y="658" width="1" height="31" fill="#c0c0c0"/>
<rect x="692" y="658" width="1" height="31" fill="#c0c0c0"/>
<rect x="700" y="661" width="1" height="28" fill="#c0c0c0"/>
<rect x="708" y="664" width="1" height="25" fill="#c0c0c0"/>
<rect x="716" y="665" width="1" height="24" fill="#c0c0c0"/>
<rect x="724" y="666" width="1" height="23" fill="#c0c0c0"/>
<rect x="732" y="665" width="1" height="24" fill="#c0c0c0"/>
<rect x="740" y="673" width="1" height="16" fill="#c0c0c0"/>
<rect x="748" y="678" width="1" height="11" fill="#c0c0c0"/>
<rect x="756" y="681" width="1" height="8" fill="#c0c0c0"/>
<rect x="764" y="683" width="1" height="6" fill="#c0c0c0"/>
<rect x="772" y="681" width="1" height="8" fill="#c0c0c0"/>
<rect x="780" y="680" width="1" height="9" fill="#c0c0c0"/>
<rect x="788" y="679" width="1" height="10" fill="#c0c0c0"/>
<rect x="796" y="679" width="1" height="10" fill="#c0c0c0"/>
<rect x="804" y="677" width="1" height="12" fill="#c0c0c0"/>
<rect x="812" y="674" width="1" height="15" fill="#c0c0c0"/>
<rect x="820" y="667" width="1" height="22" fill="#c0c0c0"/>
<rect x="828" y="659" width="1" height="30" fill="#c0c0c0"/>
<rect x="836" y="655" width="1" height="34" fill="#c0c0c0"/>
<rect x="844" y="654" width="1" height="35" fill="#c0c0c0"/>
<rect x="852" y="654" width="1" height="35" fill="#c0c0c0"/>
<rect x="860" y="652" width="1" height="37" fill="#c0c0c0"/>
<rect x="868" y="653" width="1" height="36" fill="#c0c0c0"/>
<rect x="876" y="644" width="1" height="45" fill="#c0c0c0"/>
<rect x="884" y="641" width="1" height="48" fill="#c0c0c0"/>
<rect x="892" y="638" width="1" height="51" fill="#c0c0c0"/>
<rect x="900" y="640" width="1" height="49" fill="#c0c0c0"/>
<rect x="908" y="641" width="1" height="48" fill="#c0c0c0"/>
<rect x="916" y="646" width="1" height="43" fill="#c0c0c0"/>
<rect x="924" y="647" width="1" height="42" fill="#c0c0c0"/>
<rect x="932" y="649" width="1" height="40" fill="#c0c0c0"/>
<rect x="940" y="652" width="1" height="37" fill="#c0c0c0"/>
<rect x="948" y="654" width="1" height="35" fill="#c0c0c0"/>
<rect x="956" y="655" width="1" height="34" fill="#c0c0c0"/>
<rect x="964" y="658" width="1" height="31" fill="#c0c0c0"/>
<rect x="972" y="664" width="1" height="25" fill="#c0c0c0"/>
<rect x="980" y="663" width="1" height="26" fill="#c0c0c0"/>
<rect x="988" y="663" width="1" height="26" fill="#c0c0c0"/>
<rect x="996" y="663" width="1" height="26" fill="#c0c0c0"/>
<rect x="1004" y="664" width="1" height="25" fill="#c0c0c0"/>
<rect x="1012" y="664" width="1" height="25" fill="#c0c0c0"/>
<rect x="1020" y="666" width="1" height="23" fill="#c0c0c0"/>
<rect x="1028" y="657" width="1" height="32" fill="#c0c0c0"/>
<rect x="1036" y="651" width="1" height="38" fill="#c0c0c0"/>
<rect x="1044" y="646" width="1" height="43" fill="#c0c0c0"/>
<rect x="1052" y="643" width="1" height="46" fill="#c0c0c0"/>
<rect x="1060" y="640" width="1" height="49" fill="#c0c0c0"/>
<rect x="1068" y="631" width="1" height="58" fill="#c0c0c0"/>
<rect x="1076" y="621" width="1" height="68" fill="#c0c0c0"/>
<rect x="1084" y="615" width="1" height="74" fill="#c0c0c0"/>
<rect x="1092" y="611" width="1" height="78" fill="#c0c0c0"/>
<rect x="1100" y="608" width="1" height="81" fill="#c0c0c0"/>
<rect x="1108" y="608" width="1" height="81" fill="#c0c0c0"/>
<rect x="1116" y="604" width="1" height="85" fill="#c0c0c0"/>
<rect x="1124" y="600" width="1" height="89" fill="#c0c0c0"/>
<rect x="1132" y="596" width="1" height="93" fill="#c0c0c0"/>
<rect x="1140" y="595" width="1" height="94" fill="#c0c0c0"/>
<rect x="1148" y="595" width="1" height="94" fill="#c0c0c0"/>
<rect x="1156" y="594" width="1" height="95" fill="#c0c0c0"/>
<rect x="1164" y="594" width="1" height="95" fill="#c0c0c0"/>
<rect x="1172" y="600" width="1" height="89" fill="#c0c0c0"/>
<rect x="1180" y="605" width="1" height="84" fill="#c0c0c0"/>
<rect x="1188" y="609" width="1" height="80" fill="#c0c0c0"/>
<rect x="1196" y="614" width="1" height="75" fill="#c0c0c0"/>
<rect x="1204" y="620" width="1" height="69" fill="#c0c0c0"/>
<rect x="1212" y="627" width="1" height="62" fill="#c0c0c0"/>
<rect x="1220" y="632" width="1" height="57" fill="#c0c0c0"/>
<rect x="1228" y="639" width="1" height="50" fill="#c0c0c0"/>
<rect x="1236" y="645" width="1" height="44" fill="#c0c0c0"/>
<rect x="1244" y="653" width="1" height="36" fill="#c0c0c0"/>
<rect x="1252" y="658" width="1" height="31" fill="#c0c0c0"/>
<rect x="1260" y="664" width="1" height="25" fill="#c0c0c0"/>
<rect x="1268" y="669" width="1" height="20" fill="#c0c0c0"/>
<rect x="1276" y="670" width="1" height="19" fill="#c0c0c0"/>
<rect x="1284" y="671" width="1" height="18" fill="#c0c0c0"/>
<polyline points="-3.5,671.2 4.5,675.0 12.5,681.3 20.5,687.5 28.5,691.3 36.5,693.3 44.5,693.8 52.5,693.1 60.5,691.3 68.5,687.7 76.5,685.2 84.5,683.1 92.5,682.2 100.5,682.1 108.5,682.2 116.5,682.8 124.5,683.6 132.5,684.5 140.5,685.4 148.5,685.7 156.5,685.8 164.5,686.8 172.5,688.5 180.5,691.0 188.5,693.4 196.5,697.2 204.5,701.4 212.5,706.2 220.5,711.0 228.5,715.5 236.5,719.1 244.5,722.2 252.5,724.6 260.5,726.7 268.5,726.7 276.5,725.6 284.5,724.1 292.5,722.4 300.5,721.1 308.5,720.7 316.5,721.0 324.5,722.1 332.5,723.5 340.5,726.0 348.5,729.4 356.5,733.3 364.5,737.7 372.5,742.0 380.5,745.4 388.5,748.0 396.5,749.8 404.5,751.0 412.5,751.4 420.5,750.7 428.5,749.6 436.5,747.6 444.5,745.7 452.5,744.0 460.5,742.6 468.5,741.7 476.5,741.7 484.5,742.4 492.5,743.4 500.5,743.5 508.5,743.0 516.5,741.3 524.5,738.6 532.5,735.4 540.5,731.7 548.5,726.7 556.5,720.6 564.5,713.9 572.5,707.8 580.5,702.6 588.5,697.9 596.5,692.7 604.5,687.4 612.5,682.1 620.5,677.4 628.5,673.6 636.5,670.3 644.5,667.4 652.5,664.5 660.5,661.8 668.5,660.3 676.5,659.4 684.5,658.7 692.5,658.4 700.5,658.4 708.5,659.0 716.5,659.8 724.5,660.8 732.5,661.8 740.5,663.7 748.5,665.8 756.5,668.4 764.5,671.2 772.5,673.4 780.5,675.2 788.5,676.7 796.5,678.1 804.5,679.4 812.5,679.5 820.5,678.2 828.5,675.8 836.5,672.8 844.5,669.8 852.5,666.9 860.5,664.0 868.5,661.1 876.5,657.4 884.5,653.7 892.5,650.6 900.5,648.4 908.5,646.9 916.5,645.9 924.5,645.2 932.5,644.9 940.5,644.8 948.5,645.9 956.5,647.4 964.5,649.7 972.5,652.4 980.5,654.8 988.5,656.7 996.5,658.4 1004.5,660.0 1012.5,661.3 1020.5,662.7 1028.5,662.9 1036.5,662.1 1044.5,660.1 1052.5,657.8 1060.5,655.3 1068.5,651.8 1076.5,647.0 1084.5,641.6 1092.5,635.5 1100.5,630.1 1108.5,625.4 1116.5,620.7 1124.5,615.9 1132.5,610.9 1140.5,606.9 1148.5,604.0 1156.5,601.7 1164.5,599.8 1172.5,598.9 1180.5,598.6 1188.5,599.2 1196.5,600.8 1204.5,603.5 1212.5,607.0 1220.5,611.2 1228.5,616.2 1236.5,621.9 1244.5,627.8 1252.5,633.7 1260.5,639.7 1268.5,645.8 1276.5,651.3 1284.5,656.2" fill="none" stroke="#ff0000" stroke-width="1" stroke-dasharray="3 3"/>
</g>
<g clip-path="url(#cr)" shape-rendering="crispEdges">
<line x1="3" x2="1624" y1="801.5" y2="801.5" stroke="#c0c0c0" stroke-width="1" stroke-dasharray="3 3"/>
<line x1="3" x2="1624" y1="848.5" y2="848.5" stroke="#c0c0c0" stroke-width="1" stroke-dasharray="3 3"/>
<line x1="3" x2="1624" y1="904.5" y2="904.5" stroke="#c0c0c0" stroke-width="1" stroke-dasharray="3 3"/>
<polyline points="-3.5,860.6 4.5,858.6 12.5,855.3 20.5,839.3 28.5,836.7 36.5,835.7 44.5,839.7 52.5,845.0 60.5,846.3 68.5,842.2 76.5,855.0 84.5,856.5 92.5,853.1 100.5,846.0 108.5,838.7 116.5,849.0 124.5,850.1 132.5,850.2 140.5,844.0 148.5,847.3 156.5,855.7 164.5,867.5 172.5,860.8 180.5,858.9 188.5,856.9 196.5,875.3 204.5,867.1 212.5,864.6 220.5,861.6 228.5,862.5 236.5,864.1 244.5,865.0 252.5,856.8 260.5,857.9 268.5,848.0 276.5,850.1 284.5,855.8 292.5,858.1 300.5,866.0 308.5,877.0 316.5,877.9 324.5,874.2 332.5,866.9 340.5,873.4 348.5,877.5 356.5,873.8 364.5,880.4 372.5,877.0 380.5,875.4 388.5,877.7 396.5,865.7 404.5,861.9 412.5,862.6 420.5,860.9 428.5,865.6 436.5,863.6 444.5,875.9 452.5,877.7 460.5,879.0 468.5,879.3 476.5,883.6 484.5,883.8 492.5,873.5 500.5,849.5 508.5,846.4 516.5,848.3 524.5,846.8 532.5,856.9 540.5,850.7 548.5,839.1 556.5,833.5 564.5,834.3 572.5,837.4 580.5,845.3 588.5,838.7 596.5,824.0 604.5,836.3 612.5,834.6 620.5,833.4 628.5,837.2 636.5,832.5 644.5,838.1 652.5,833.0 660.5,833.5 668.5,836.2 676.5,841.7 684.5,833.7 692.5,835.9 700.5,843.2 708.5,844.8 716.5,842.5 724.5,839.7 732.5,834.2 740.5,860.0 748.5,855.1 756.5,852.8 764.5,850.6 772.5,841.6 780.5,841.7 788.5,842.2 796.5,843.7 804.5,837.6 812.5,835.0 820.5,820.9 828.5,817.8 836.5,823.6 844.5,830.7 852.5,830.1 860.5,827.4 868.5,830.9 876.5,812.7 884.5,824.7 892.5,823.0 900.5,833.7 908.5,832.3 916.5,841.0 924.5,836.3 932.5,836.7 940.5,838.0 948.5,837.6 956.5,833.8 964.5,843.2 972.5,853.3 980.5,836.3 988.5,837.1 996.5,837.1 1004.5,839.5 1012.5,836.8 1020.5,843.5 1028.5,820.0 1036.5,821.8 1044.5,822.3 1052.5,820.8 1060.5,820.9 1068.5,808.0 1076.5,804.8 1084.5,808.3 1092.5,808.3 1100.5,807.5 1108.5,810.9 1116.5,805.0 1124.5,802.1 1132.5,800.4 1140.5,806.3 1148.5,805.1 1156.5,803.7 1164.5,802.3 1172.5,825.8 1180.5,823.4 1188.5,822.6 1196.5,825.0 1204.5,829.5 1212.5,834.9 1220.5,835.2 1228.5,840.7 1236.5,843.4 1244.5,852.6 1252.5,846.8 1260.5,850.8 1268.5,852.8 1276.5,840.4 1284.5,843.2" fill="none" stroke="#1e90ff" stroke-width="1" />
</g>
<g shape-rendering="crispEdges">
<rect x="1625" y="50" width="2" height="1" fill="#000"/>
<rect x="1625" y="83" width="2" height="1" fill="#000"/>
<rect x="1625" y="149" width="2" height="1" fill="#000"/>
<rect x="1625" y="182" width="2" height="1" fill="#000"/>
<rect x="1625" y="215" width="2" height="1" fill="#000"/>
<rect x="1625" y="248" width="2" height="1" fill="#000"/>
<rect x="1625" y="281" width="2" height="1" fill="#000"/>
<rect x="1625" y="314" width="2" height="1" fill="#000"/>
<rect x="1625" y="347" width="2" height="1" fill="#000"/>
<rect x="1625" y="380" width="2" height="1" fill="#000"/>
<rect x="1625" y="413" width="2" height="1" fill="#000"/>
<rect x="1625" y="446" width="2" height="1" fill="#000"/>
<rect x="1625" y="479" width="2" height="1" fill="#000"/>
<rect x="1625" y="512" width="2" height="1" fill="#000"/>
<rect x="1625" y="545" width="2" height="1" fill="#000"/>
<rect x="1625" y="578" width="2" height="1" fill="#000"/>
<rect x="1625" y="688" width="2" height="1" fill="#000"/>
<rect x="1625" y="585" width="1" height="1" fill="#000"/>
<rect x="1625" y="765" width="1" height="1" fill="#000"/>
<rect x="1625" y="770" width="1" height="1" fill="#000"/>
<rect x="1625" y="927" width="1" height="1" fill="#000"/>
<rect x="1624" y="582" width="1" height="1" fill="#fff"/>
<rect x="1624" y="767" width="1" height="1" fill="#fff"/>
<rect x="60" y="929" width="1" height="3" fill="#000"/>
<rect x="124" y="929" width="1" height="3" fill="#000"/>
<rect x="188" y="929" width="1" height="3" fill="#000"/>
<rect x="252" y="929" width="1" height="3" fill="#000"/>
<rect x="316" y="929" width="1" height="3" fill="#000"/>
<rect x="380" y="929" width="1" height="3" fill="#000"/>
<rect x="444" y="929" width="1" height="3" fill="#000"/>
<rect x="508" y="929" width="1" height="3" fill="#000"/>
<rect x="572" y="929" width="1" height="3" fill="#000"/>
<rect x="636" y="929" width="1" height="3" fill="#000"/>
<rect x="700" y="929" width="1" height="3" fill="#000"/>
<rect x="764" y="929" width="1" height="3" fill="#000"/>
<rect x="828" y="929" width="1" height="3" fill="#000"/>
<rect x="892" y="929" width="1" height="3" fill="#000"/>
<rect x="956" y="929" width="1" height="3" fill="#000"/>
<rect x="1020" y="929" width="1" height="3" fill="#000"/>
<rect x="1084" y="929" width="1" height="3" fill="#000"/>
<rect x="1148" y="929" width="1" height="3" fill="#000"/>
<rect x="1212" y="929" width="1" height="3" fill="#000"/>
<rect x="1276" y="929" width="1" height="3" fill="#000"/>
</g>
<g shape-rendering="crispEdges">
<rect x="1626" y="60" width="41" height="11" fill="#ff0000"/>
<rect x="1626" y="86" width="41" height="11" fill="#ff0000"/>
<rect x="1626" y="111" width="41" height="11" fill="#00ff00"/>
<rect x="1626" y="165" width="41" height="11" fill="#0000ff"/>
<rect x="1626" y="192" width="41" height="11" fill="#0000ff"/>
<rect x="1626" y="135" width="41" height="11" fill="#000"/>
</g>
<text x="1630.5" y="54" font-size="10.2" fill="#000" text-anchor="start" textLength="32.5" lengthAdjust="spacingAndGlyphs"  stroke="#000" stroke-width="0.08">1.11820</text>
<text x="1630.5" y="87" font-size="10.2" fill="#000" text-anchor="start" textLength="32.5" lengthAdjust="spacingAndGlyphs"  stroke="#000" stroke-width="0.08">1.11625</text>
<text x="1630.5" y="153" font-size="10.2" fill="#000" text-anchor="start" textLength="32.5" lengthAdjust="spacingAndGlyphs"  stroke="#000" stroke-width="0.08">1.11235</text>
<text x="1630.5" y="186" font-size="10.2" fill="#000" text-anchor="start" textLength="32.5" lengthAdjust="spacingAndGlyphs"  stroke="#000" stroke-width="0.08">1.11045</text>
<text x="1630.5" y="219" font-size="10.2" fill="#000" text-anchor="start" textLength="32.5" lengthAdjust="spacingAndGlyphs"  stroke="#000" stroke-width="0.08">1.10850</text>
<text x="1630.5" y="252" font-size="10.2" fill="#000" text-anchor="start" textLength="32.5" lengthAdjust="spacingAndGlyphs"  stroke="#000" stroke-width="0.08">1.10655</text>
<text x="1630.5" y="285" font-size="10.2" fill="#000" text-anchor="start" textLength="32.5" lengthAdjust="spacingAndGlyphs"  stroke="#000" stroke-width="0.08">1.10460</text>
<text x="1630.5" y="318" font-size="10.2" fill="#000" text-anchor="start" textLength="32.5" lengthAdjust="spacingAndGlyphs"  stroke="#000" stroke-width="0.08">1.10265</text>
<text x="1630.5" y="351" font-size="10.2" fill="#000" text-anchor="start" textLength="32.5" lengthAdjust="spacingAndGlyphs"  stroke="#000" stroke-width="0.08">1.10075</text>
<text x="1630.5" y="384" font-size="10.2" fill="#000" text-anchor="start" textLength="32.5" lengthAdjust="spacingAndGlyphs"  stroke="#000" stroke-width="0.08">1.09880</text>
<text x="1630.5" y="417" font-size="10.2" fill="#000" text-anchor="start" textLength="32.5" lengthAdjust="spacingAndGlyphs"  stroke="#000" stroke-width="0.08">1.09685</text>
<text x="1630.5" y="450" font-size="10.2" fill="#000" text-anchor="start" textLength="32.5" lengthAdjust="spacingAndGlyphs"  stroke="#000" stroke-width="0.08">1.09490</text>
<text x="1630.5" y="483" font-size="10.2" fill="#000" text-anchor="start" textLength="32.5" lengthAdjust="spacingAndGlyphs"  stroke="#000" stroke-width="0.08">1.09295</text>
<text x="1630.5" y="516" font-size="10.2" fill="#000" text-anchor="start" textLength="32.5" lengthAdjust="spacingAndGlyphs"  stroke="#000" stroke-width="0.08">1.09100</text>
<text x="1630.5" y="549" font-size="10.2" fill="#000" text-anchor="start" textLength="32.5" lengthAdjust="spacingAndGlyphs"  stroke="#000" stroke-width="0.08">1.08910</text>
<text x="1630.5" y="582" font-size="10.2" fill="#000" text-anchor="start" textLength="32.5" lengthAdjust="spacingAndGlyphs"  stroke="#000" stroke-width="0.08">1.08715</text>
<text x="1630.5" y="69" font-size="10.2" fill="#fff" text-anchor="start" textLength="32.5" lengthAdjust="spacingAndGlyphs"  stroke="#fff" stroke-width="0.2">1.11723</text>
<text x="1630.5" y="95" font-size="10.2" fill="#fff" text-anchor="start" textLength="32.5" lengthAdjust="spacingAndGlyphs"  stroke="#fff" stroke-width="0.2">1.11570</text>
<text x="1630.5" y="120" font-size="10.2" fill="#fff" text-anchor="start" textLength="32.5" lengthAdjust="spacingAndGlyphs"  stroke="#fff" stroke-width="0.2">1.11424</text>
<text x="1630.5" y="174" font-size="10.2" fill="#fff" text-anchor="start" textLength="32.5" lengthAdjust="spacingAndGlyphs"  stroke="#fff" stroke-width="0.2">1.11107</text>
<text x="1630.5" y="201" font-size="10.2" fill="#fff" text-anchor="start" textLength="32.5" lengthAdjust="spacingAndGlyphs"  stroke="#fff" stroke-width="0.2">1.10948</text>
<text x="1630.5" y="144" font-size="10.2" fill="#fff" text-anchor="start" textLength="32.5" lengthAdjust="spacingAndGlyphs"  stroke="#fff" stroke-width="0.2">1.11289</text>
<text x="1628" y="594" font-size="10.2" fill="#000" text-anchor="start" textLength="37.5" lengthAdjust="spacingAndGlyphs"  stroke="#000" stroke-width="0.08">0.003725</text>
<text x="1628" y="692" font-size="10.2" fill="#000" text-anchor="start" textLength="17.5" lengthAdjust="spacingAndGlyphs"  stroke="#000" stroke-width="0.08">0.00</text>
<text x="1628" y="763" font-size="10.2" fill="#000" text-anchor="start" textLength="40.5" lengthAdjust="spacingAndGlyphs"  stroke="#000" stroke-width="0.08">-0.002794</text>
<text x="1628" y="779" font-size="10.2" fill="#000" text-anchor="start" textLength="15" lengthAdjust="spacingAndGlyphs"  stroke="#000" stroke-width="0.08">100</text>
<text x="1628" y="805" font-size="10.2" fill="#000" text-anchor="start" textLength="10" lengthAdjust="spacingAndGlyphs"  stroke="#000" stroke-width="0.08">80</text>
<text x="1628" y="852" font-size="10.2" fill="#000" text-anchor="start" textLength="10" lengthAdjust="spacingAndGlyphs"  stroke="#000" stroke-width="0.08">50</text>
<text x="1628" y="908" font-size="10.2" fill="#000" text-anchor="start" textLength="10" lengthAdjust="spacingAndGlyphs"  stroke="#000" stroke-width="0.08">15</text>
<text x="1628" y="925" font-size="10.2" fill="#000" text-anchor="start" textLength="5" lengthAdjust="spacingAndGlyphs"  stroke="#000" stroke-width="0.08">0</text>
<text x="-4.9" y="941" font-size="10.2" fill="#000" text-anchor="start" textLength="53.1" lengthAdjust="spacingAndGlyphs"  stroke="#000" stroke-width="0.08">17 Sep 2019</text>
<text x="59.1" y="941" font-size="10.2" fill="#000" text-anchor="start" textLength="55.7" lengthAdjust="spacingAndGlyphs"  stroke="#000" stroke-width="0.08">18 Sep 08:00</text>
<text x="123.1" y="941" font-size="10.2" fill="#000" text-anchor="start" textLength="55.7" lengthAdjust="spacingAndGlyphs"  stroke="#000" stroke-width="0.08">19 Sep 16:00</text>
<text x="187.1" y="941" font-size="10.2" fill="#000" text-anchor="start" textLength="55.7" lengthAdjust="spacingAndGlyphs"  stroke="#000" stroke-width="0.08">23 Sep 00:00</text>
<text x="251.1" y="941" font-size="10.2" fill="#000" text-anchor="start" textLength="55.7" lengthAdjust="spacingAndGlyphs"  stroke="#000" stroke-width="0.08">24 Sep 08:00</text>
<text x="315.1" y="941" font-size="10.2" fill="#000" text-anchor="start" textLength="55.7" lengthAdjust="spacingAndGlyphs"  stroke="#000" stroke-width="0.08">25 Sep 16:00</text>
<text x="379.1" y="941" font-size="10.2" fill="#000" text-anchor="start" textLength="55.7" lengthAdjust="spacingAndGlyphs"  stroke="#000" stroke-width="0.08">27 Sep 00:00</text>
<text x="443.1" y="941" font-size="10.2" fill="#000" text-anchor="start" textLength="55.7" lengthAdjust="spacingAndGlyphs"  stroke="#000" stroke-width="0.08">30 Sep 08:00</text>
<text x="507.1" y="941" font-size="10.2" fill="#000" text-anchor="start" textLength="48.4" lengthAdjust="spacingAndGlyphs"  stroke="#000" stroke-width="0.08">1 Oct 16:00</text>
<text x="571.1" y="941" font-size="10.2" fill="#000" text-anchor="start" textLength="48.4" lengthAdjust="spacingAndGlyphs"  stroke="#000" stroke-width="0.08">3 Oct 00:00</text>
<text x="635.1" y="941" font-size="10.2" fill="#000" text-anchor="start" textLength="48.4" lengthAdjust="spacingAndGlyphs"  stroke="#000" stroke-width="0.08">4 Oct 08:00</text>
<text x="699.1" y="941" font-size="10.2" fill="#000" text-anchor="start" textLength="48.4" lengthAdjust="spacingAndGlyphs"  stroke="#000" stroke-width="0.08">7 Oct 16:00</text>
<text x="763.1" y="941" font-size="10.2" fill="#000" text-anchor="start" textLength="48.4" lengthAdjust="spacingAndGlyphs"  stroke="#000" stroke-width="0.08">9 Oct 00:00</text>
<text x="827.1" y="941" font-size="10.2" fill="#000" text-anchor="start" textLength="53.6" lengthAdjust="spacingAndGlyphs"  stroke="#000" stroke-width="0.08">10 Oct 08:00</text>
<text x="891.1" y="941" font-size="10.2" fill="#000" text-anchor="start" textLength="52.9" lengthAdjust="spacingAndGlyphs"  stroke="#000" stroke-width="0.08">11 Oct 16:00</text>
<text x="955.1" y="941" font-size="10.2" fill="#000" text-anchor="start" textLength="53.6" lengthAdjust="spacingAndGlyphs"  stroke="#000" stroke-width="0.08">15 Oct 00:00</text>
<text x="1019.1" y="941" font-size="10.2" fill="#000" text-anchor="start" textLength="53.6" lengthAdjust="spacingAndGlyphs"  stroke="#000" stroke-width="0.08">16 Oct 08:00</text>
<text x="1083.1" y="941" font-size="10.2" fill="#000" text-anchor="start" textLength="53.6" lengthAdjust="spacingAndGlyphs"  stroke="#000" stroke-width="0.08">17 Oct 16:00</text>
<text x="1147.1" y="941" font-size="10.2" fill="#000" text-anchor="start" textLength="53.6" lengthAdjust="spacingAndGlyphs"  stroke="#000" stroke-width="0.08">21 Oct 00:00</text>
<text x="1211.1" y="941" font-size="10.2" fill="#000" text-anchor="start" textLength="53.6" lengthAdjust="spacingAndGlyphs"  stroke="#000" stroke-width="0.08">22 Oct 08:00</text>
<text x="1275.1" y="941" font-size="10.2" fill="#000" text-anchor="start" textLength="53.6" lengthAdjust="spacingAndGlyphs"  stroke="#000" stroke-width="0.08">23 Oct 16:00</text>
<text x="11" y="40" font-size="10.2" fill="#000" text-anchor="start" textLength="204" lengthAdjust="spacingAndGlyphs" xml:space="preserve" stroke="#000" stroke-width="0.08">EURUSD-,H4&#160;&#160;1.11325 1.11326 1.11289 1.11289</text>
<text x="1" y="596" font-size="10.2" fill="#000" text-anchor="start" textLength="146.5" lengthAdjust="spacingAndGlyphs"  stroke="#000" stroke-width="0.08">MACD(12,26,9) 0.000623 0.001180</text>
<text x="1" y="781" font-size="10.2" fill="#000" text-anchor="start" textLength="66.5" lengthAdjust="spacingAndGlyphs"  stroke="#000" stroke-width="0.08">RSI(14) 53.6461</text>
<path d="M0 38.5 L3.5 35 L7 38.5 Z" fill="#000"/>
<path d="M1291 29 L1301 29 L1296 34 Z" fill="#c0c0c0"/>
<text x="1434" y="128" font-size="27.3" fill="#ff0000" text-anchor="start" textLength="95" lengthAdjust="spacingAndGlyphs" >1.11424</text>
<text x="1356" y="245.5" font-size="32" fill="#0c3400" text-anchor="start" textLength="161" lengthAdjust="spacing" style="font-family:'Liberation Sans','Noto Sans CJK SC',sans-serif">多空转折点</text>
<text x="1355" y="244.5" font-size="32" fill="#00ff00" text-anchor="start" textLength="161" lengthAdjust="spacing" style="font-family:'Liberation Sans','Noto Sans CJK SC',sans-serif">多空转折点</text>
<defs><linearGradient id="pg" gradientUnits="userSpaceOnUse" x1="0" y1="48" x2="0" y2="112"><stop offset="0" stop-color="#5a5aff"/><stop offset="0.4" stop-color="#3a32e4"/><stop offset="1" stop-color="#0400b4"/></linearGradient></defs>
<g shape-rendering="crispEdges">
<rect x="0" y="44" width="220" height="68" fill="#fff"/>
<rect x="0" y="48" width="51" height="25" fill="#0a08b0"/>
<rect x="0" y="49" width="50" height="24" fill="url(#pg)"/>
<rect x="0" y="72" width="108" height="40" fill="#0a08b0"/>
<rect x="0" y="73" width="107" height="39" fill="url(#pg)"/>
<rect x="0" y="49" width="50" height="30" fill="url(#pg)"/>
<rect x="3" y="71" width="44" height="1" fill="#1a10a8"/>
<rect x="3" y="72" width="44" height="1" fill="#7c78f4"/>
<rect x="166" y="48" width="52" height="25" fill="#0a08b0"/>
<rect x="167" y="49" width="50" height="24" fill="url(#pg)"/>
<rect x="110" y="72" width="108" height="40" fill="#0a08b0"/>
<rect x="111" y="73" width="106" height="39" fill="url(#pg)"/>
<rect x="167" y="49" width="50" height="30" fill="url(#pg)"/>
<rect x="170" y="71" width="44" height="1" fill="#1a10a8"/>
<rect x="170" y="72" width="44" height="1" fill="#7c78f4"/>
<rect x="53" y="48" width="111" height="22" fill="#a8a8a8"/>
<rect x="54" y="49" width="109" height="20" fill="#fff"/>
<rect x="54" y="49" width="20" height="20" fill="#e9e9e9"/>
<rect x="74" y="49" width="1" height="20" fill="#a8a8a8"/>
<rect x="143" y="49" width="20" height="20" fill="#e9e9e9"/>
<rect x="142" y="49" width="1" height="20" fill="#a8a8a8"/>
</g>
<path d="M61 57 H66.4 L63.7 60Z" fill="#000"/><path d="M150 60 H155.4 L152.7 57Z" fill="#000"/>
<text x="115.6" y="63" font-size="12" fill="#000" textLength="23.2" lengthAdjust="spacingAndGlyphs">1.00</text>
<text x="11.6" y="64" font-size="12.6" fill="#fff" textLength="25.2" lengthAdjust="spacingAndGlyphs">SELL</text>
<text x="179.6" y="64" font-size="12.6" fill="#fff" textLength="23.4" lengthAdjust="spacingAndGlyphs">BUY</text>
<text x="19.5" y="103" font-size="12" font-weight="bold" fill="#fff" textLength="22.3" lengthAdjust="spacingAndGlyphs">1.11</text>
<text x="46.6" y="103.3" font-size="33.5" fill="#fff" textLength="34.5" lengthAdjust="spacingAndGlyphs">28</text>
<text x="85.9" y="86.9" font-size="11.6" fill="#fff" stroke="#fff" stroke-width="0.3">9</text>
<text x="129.5" y="103" font-size="12" font-weight="bold" fill="#fff" textLength="22.3" lengthAdjust="spacingAndGlyphs">1.11</text>
<text x="158.1" y="103.3" font-size="33.5" fill="#fff" textLength="29.5" lengthAdjust="spacingAndGlyphs">31</text>
<text x="196.9" y="86.9" font-size="11.6" fill="#fff" stroke="#fff" stroke-width="0.3">7</text>
<g shape-rendering="crispEdges"><rect x="1670" y="26" width="1" height="925" fill="#e3e3e3"/><rect x="0" y="949" width="1671" height="1" fill="#e3e3e3"/><rect x="0" y="950" width="1671" height="1" fill="#f4f4f4"/></g>
</svg>
<svg width="1671" height="28" viewBox="0 0 1671 28" style="position:absolute;left:0;top:0" text-rendering="geometricPrecision" font-family="'Liberation Sans', sans-serif">
<defs>
<linearGradient id="gp" x1="0" y1="0" x2="0" y2="1"><stop offset="0" stop-color="#5fe35f"/><stop offset="1" stop-color="#0a9a0a"/></linearGradient>
<linearGradient id="gold" x1="0" y1="0" x2="1" y2="1"><stop offset="0" stop-color="#ffe680"/><stop offset="0.5" stop-color="#e8b820"/><stop offset="1" stop-color="#b07808"/></linearGradient>
<linearGradient id="blu" x1="0" y1="0" x2="0" y2="1"><stop offset="0" stop-color="#49a8f5"/><stop offset="1" stop-color="#1765c8"/></linearGradient>
<linearGradient id="grn" x1="0" y1="0" x2="0" y2="1"><stop offset="0" stop-color="#58b030"/><stop offset="1" stop-color="#2a8a10"/></linearGradient>
<linearGradient id="bl2" x1="0" y1="0" x2="0" y2="1"><stop offset="0" stop-color="#3a70e0"/><stop offset="1" stop-color="#1040b8"/></linearGradient>
<radialGradient id="lens" cx="0.4" cy="0.35" r="0.7"><stop offset="0" stop-color="#ffffff"/><stop offset="1" stop-color="#b8e0f8"/></radialGradient>
<linearGradient id="clk" x1="0.2" y1="0" x2="0.8" y2="1"><stop offset="0" stop-color="#58b0f8"/><stop offset="0.5" stop-color="#1e70d8"/><stop offset="1" stop-color="#0a48a0"/></linearGradient>
<linearGradient id="bub" x1="0" y1="0" x2="0" y2="1"><stop offset="0" stop-color="#ffffff"/><stop offset="0.5" stop-color="#f4f4f6"/><stop offset="1" stop-color="#d4d4e0"/></linearGradient>
<linearGradient id="face" x1="0" y1="0" x2="1" y2="1"><stop offset="0" stop-color="#f8c830"/><stop offset="0.5" stop-color="#fff07a"/><stop offset="1" stop-color="#f0b010"/></linearGradient>
<radialGradient id="stp" cx="0.4" cy="0.35" r="0.7"><stop offset="0" stop-color="#ff5030"/><stop offset="1" stop-color="#c01000"/></radialGradient>
<pattern id="chk" width="2" height="2" patternUnits="userSpaceOnUse"><rect width="2" height="2" fill="#fff"/><rect width="1" height="1" fill="#f0f0f0"/><rect x="1" y="1" width="1" height="1" fill="#f0f0f0"/></pattern>
</defs>
<g shape-rendering="crispEdges">
<rect x="0" y="0" width="1671" height="23" fill="#f0f0f0"/>
<rect x="0" y="23" width="1671" height="1" fill="#f7f7f7"/>
<rect x="0" y="24" width="1671" height="1" fill="#a6a6a6"/>
<rect x="0" y="25" width="1671" height="1" fill="#696969"/>
<rect x="0" y="26" width="1671" height="2" fill="#fff"/>
<rect x="259" y="0" width="26" height="23" fill="#fff"/>
<rect x="260" y="1" width="24" height="21" fill="url(#chk)"/>
<rect x="259" y="0" width="25" height="1" fill="#a0a0a0"/>
<rect x="259" y="0" width="1" height="22" fill="#a0a0a0"/>
<rect x="411" y="0" width="25" height="23" fill="#fff"/>
<rect x="412" y="1" width="23" height="21" fill="url(#chk)"/>
<rect x="411" y="0" width="24" height="1" fill="#a0a0a0"/>
<rect x="411" y="0" width="1" height="22" fill="#a0a0a0"/>
<rect x="439" y="0" width="26" height="23" fill="#fff"/>
<rect x="440" y="1" width="24" height="21" fill="url(#chk)"/>
<rect x="439" y="0" width="25" height="1" fill="#a0a0a0"/>
<rect x="439" y="0" width="1" height="22" fill="#a0a0a0"/>
<rect x="599" y="0" width="26" height="23" fill="#fff"/>
<rect x="600" y="1" width="24" height="21" fill="url(#chk)"/>
<rect x="599" y="0" width="25" height="1" fill="#a0a0a0"/>
<rect x="599" y="0" width="1" height="22" fill="#a0a0a0"/>
<rect x="1045" y="0" width="26" height="23" fill="#fff"/>
<rect x="1046" y="1" width="24" height="21" fill="url(#chk)"/>
<rect x="1045" y="0" width="25" height="1" fill="#a0a0a0"/>
<rect x="1045" y="0" width="1" height="22" fill="#a0a0a0"/>
<rect x="221" y="0" width="1" height="24" fill="#a0a0a0"/>
<rect x="222" y="0" width="1" height="24" fill="#fff"/>
<rect x="589" y="0" width="1" height="24" fill="#a0a0a0"/>
<rect x="590" y="0" width="1" height="24" fill="#fff"/>
<rect x="895" y="0" width="1" height="24" fill="#a0a0a0"/>
<rect x="896" y="0" width="1" height="24" fill="#fff"/>
<rect x="1156" y="0" width="1" height="24" fill="#a0a0a0"/>
<rect x="1157" y="0" width="1" height="24" fill="#fff"/>
<rect x="316" y="1" width="1" height="21" fill="#a0a0a0"/>
<rect x="406" y="1" width="1" height="21" fill="#a0a0a0"/>
<rect x="468" y="1" width="1" height="21" fill="#a0a0a0"/>
<rect x="656" y="1" width="1" height="21" fill="#a0a0a0"/>
<rect x="225" y="2" width="3" height="1" fill="#a0a0a0"/>
<rect x="225" y="4" width="3" height="1" fill="#a0a0a0"/>
<rect x="225" y="6" width="3" height="1" fill="#a0a0a0"/>
<rect x="225" y="8" width="3" height="1" fill="#a0a0a0"/>
<rect x="225" y="10" width="3" height="1" fill="#a0a0a0"/>
<rect x="225" y="12" width="3" height="1" fill="#a0a0a0"/>
<rect x="225" y="14" width="3" height="1" fill="#a0a0a0"/>
<rect x="225" y="16" width="3" height="1" fill="#a0a0a0"/>
<rect x="225" y="18" width="3" height="1" fill="#a0a0a0"/>
<rect x="225" y="20" width="3" height="1" fill="#a0a0a0"/>
<rect x="593" y="2" width="3" height="1" fill="#a0a0a0"/>
<rect x="593" y="4" width="3" height="1" fill="#a0a0a0"/>
<rect x="593" y="6" width="3" height="1" fill="#a0a0a0"/>
<rect x="593" y="8" width="3" height="1" fill="#a0a0a0"/>
<rect x="593" y="10" width="3" height="1" fill="#a0a0a0"/>
<rect x="593" y="12" width="3" height="1" fill="#a0a0a0"/>
<rect x="593" y="14" width="3" height="1" fill="#a0a0a0"/>
<rect x="593" y="16" width="3" height="1" fill="#a0a0a0"/>
<rect x="593" y="18" width="3" height="1" fill="#a0a0a0"/>
<rect x="593" y="20" width="3" height="1" fill="#a0a0a0"/>
<rect x="899" y="2" width="3" height="1" fill="#a0a0a0"/>
<rect x="899" y="4" width="3" height="1" fill="#a0a0a0"/>
<rect x="899" y="6" width="3" height="1" fill="#a0a0a0"/>
<rect x="899" y="8" width="3" height="1" fill="#a0a0a0"/>
<rect x="899" y="10" width="3" height="1" fill="#a0a0a0"/>
<rect x="899" y="12" width="3" height="1" fill="#a0a0a0"/>
<rect x="899" y="14" width="3" height="1" fill="#a0a0a0"/>
<rect x="899" y="16" width="3" height="1" fill="#a0a0a0"/>
<rect x="899" y="18" width="3" height="1" fill="#a0a0a0"/>
<rect x="899" y="20" width="3" height="1" fill="#a0a0a0"/>
</g>
<path d="M-4.5 4.5 H4 L7.5 8 V17.5 H-4.5Z" fill="#fff" stroke="#8a8a8a"/><path d="M4 4.5 V8 H7.5" fill="#e8e8e8" stroke="#8a8a8a"/><path d="M-2 12.5H2" stroke="#999"/>
<path d="M3.5 10.5 H7 V14.5 H10.5 V18 H7 V21.5 H3.5 V18 H-0.5 V14.5 H3.5Z" fill="url(#gp)" stroke="#0a8a0a" stroke-width="1"/>
<text x="14" y="15" font-size="12" fill="#000" textLength="36" lengthAdjust="spacingAndGlyphs" style="font-family:'Liberation Sans','Noto Sans CJK SC',sans-serif">新订单</text>
<path d="M62.3 14 Q66 10.8 67.2 5.4 L68 5.5 L77.7 13.3 Q78 14.3 77.3 15 L70.6 19.6 Q69.8 20 69 19.6Z" fill="url(#gold)" stroke="#a8680e" stroke-width="0.9" stroke-linejoin="round"/>
<path d="M63 14.6 L69.8 18.6" stroke="#fbe9a0" stroke-width="1.2" fill="none"/><path d="M70.6 18.7 L77 14.2" stroke="#e6d6a0" stroke-width="1.3" fill="none"/><path d="M70.2 19.3 L77.4 14.6" stroke="#a8680e" stroke-width="0.5" fill="none"/>
<path d="M92.2 5.2 L94.5 4.2 L101 4.3 L103 5.6 V13.5 H92.2Z" fill="#1e96f8" stroke="#1a78e0" stroke-width="0.6"/><path d="M95.5 6.4 H103 V13.5 H95.5Z" fill="#3aacff"/><path d="M92.6 5.2 L95.4 6.5 V13.5" stroke="#e8f6ff" stroke-width="0.7" fill="none"/><path d="M97.3 9.3 H101.6" stroke="#f4fbff" stroke-width="1"/><path d="M97.3 11.2 H101.6" stroke="#9ad4ff" stroke-width="0.6"/>
<defs><linearGradient id="cld" x1="0" y1="0" x2="0" y2="1"><stop offset="0" stop-color="#ffffff"/><stop offset="0.55" stop-color="#eef1f8"/><stop offset="1" stop-color="#b8c4dc"/></linearGradient></defs>
<path d="M92.3 19.6 Q90.2 19.4 90.4 17.4 Q90.8 15.4 93.2 15.6 Q93.6 13.4 96 13.8 Q97.8 11.8 100 13.6 Q100.8 14.2 101.2 15 Q103.2 13.6 104.6 15.4 Q106.4 16.2 105.8 18.2 Q105.4 19.6 103.8 19.6Z" fill="url(#cld)" stroke="#3f5fa8" stroke-width="0.9"/>
<defs><linearGradient id="sg" x1="0" y1="0" x2="0.7" y2="1"><stop offset="0" stop-color="#eef6ee"/><stop offset="0.55" stop-color="#a8d4a8"/><stop offset="1" stop-color="#3a9a3a"/></linearGradient></defs>
<path d="M126.3 4 A8 8 0 0 1 126.3 20 Z" fill="url(#sg)" opacity="0.9"/>
<g fill="none" stroke="#3a68d8"><path d="M126 4.6 A7.4 7.4 0 0 0 126 19.4" stroke-width="1.2" opacity="0.75"/><path d="M126 7.4 A4.6 4.6 0 0 0 126 16.6" stroke-width="1.1" opacity="0.6"/><path d="M126 4.6 A7.4 7.4 0 0 1 133.3 13" stroke-width="1" opacity="0.35"/><path d="M126 7.4 A4.6 4.6 0 0 1 130.6 12.5" stroke-width="1" opacity="0.35"/></g>
<circle cx="125.8" cy="11.8" r="2" fill="#2454d4"/><path d="M126.6 12.2 V19.9" stroke="#1aa01a" stroke-width="1.4"/>
<path d="M145.6 10.5 L160.8 10 L153.4 19.4 Q152 19.9 151 19Z" fill="url(#face)" stroke="#c8940f" stroke-width="0.8"/>
<path d="M145.3 8.6 Q146.5 6.6 149.3 7.4 Q149.6 4.1 153 4.1 Q156.3 4.1 156.7 7.2 Q159.6 6 160.9 7.8 Q160.6 10.6 153.4 11.3 Q146 11.4 145.3 8.6Z" fill="#62b4e4" stroke="#2a86b6" stroke-width="0.8"/><path d="M149.6 7.6 Q153 9.4 156.6 7.4" stroke="#2a86b6" stroke-width="0.6" fill="none"/><ellipse cx="152.3" cy="6" rx="2" ry="1.1" fill="#a8dcf8" opacity="0.8"/>
<circle cx="157.6" cy="15.8" r="4" fill="url(#stp)" stroke="#a81000" stroke-width="0.7"/><rect x="156.2" y="14.4" width="2.8" height="2.8" fill="#fff"/>
<text x="167" y="15" font-size="12" fill="#000" textLength="46" lengthAdjust="spacingAndGlyphs" style="font-family:'Liberation Sans','Noto Sans CJK SC',sans-serif">自动交易</text>
<g fill="none" stroke="#4d4d4d" stroke-width="1.2"><path d="M239.5 20 V7"/><path d="M237 17.5 H250"/></g><path d="M237.7 8.8 L239.5 6 L241.3 8.8Z M248.2 15.7 L251 17.5 L248.2 19.3Z" fill="#4d4d4d"/>
<path d="M245.5 7.5 V15.5 M245.5 8.5 H248 M243 14.5 H245.5" stroke="#0a8a0a" stroke-width="1.4" fill="none"/>
<g fill="none" stroke="#4d4d4d" stroke-width="1.2"><path d="M267.5 20 V7"/><path d="M265 17.5 H278"/></g><path d="M265.7 8.8 L267.5 6 L269.3 8.8Z M276.2 15.7 L279 17.5 L276.2 19.3Z" fill="#4d4d4d"/>
<path d="M273.5 4 V16" stroke="#0a8a0a" stroke-width="1.2"/><rect x="271.2" y="6.2" width="4.6" height="7.8" fill="#55dd55" stroke="#0a8a0a" stroke-width="1"/>
<g fill="none" stroke="#4d4d4d" stroke-width="1.2"><path d="M295.5 20 V7"/><path d="M293 17.5 H306"/></g><path d="M293.7 8.8 L295.5 6 L297.3 8.8Z M304.2 15.7 L307 17.5 L304.2 19.3Z" fill="#4d4d4d"/>
<path d="M294 14.5 Q297 12 299 9.5 Q300.5 8.5 302 10 Q304 12.5 306 13" stroke="#2a9a2a" stroke-width="1.3" fill="none"/>
<path d="M334.5 14.5 L340 19" stroke="#c89a10" stroke-width="2.6" stroke-linecap="round"/><path d="M334.8 14 L339.5 18" stroke="#f0d050" stroke-width="1"/>
<circle cx="331" cy="10" r="5.4" fill="url(#lens)" stroke="#3a86c8" stroke-width="1.1"/>
<path d="M328 10 H334" stroke="#3a7ab0" stroke-width="1.6"/>
<path d="M331 7 V13" stroke="#3a7ab0" stroke-width="1.6"/>
<path d="M362.5 14.5 L368 19" stroke="#c89a10" stroke-width="2.6" stroke-linecap="round"/><path d="M362.8 14 L367.5 18" stroke="#f0d050" stroke-width="1"/>
<circle cx="359" cy="10" r="5.4" fill="url(#lens)" stroke="#3a86c8" stroke-width="1.1"/>
<path d="M356 10 H362" stroke="#3a7ab0" stroke-width="1.6"/>
<rect x="381" y="4" width="8" height="8" fill="url(#grn)"/><path d="M382.2 7.2 H388 V11 H386.9 V10 H383.3 V11 H382.2Z" fill="#fff"/><rect x="383.4" y="8.3" width="3.4" height="0.8" fill="url(#grn)" opacity="0.55"/><rect x="382" y="5" width="1" height="1" fill="#fff" opacity="0.8"/>
<rect x="389" y="4" width="8" height="8" fill="url(#bl2)"/><path d="M390.2 7.2 H396 V11 H394.9 V10 H391.3 V11 H390.2Z" fill="#fff"/><rect x="391.4" y="8.3" width="3.4" height="0.8" fill="url(#bl2)" opacity="0.55"/><rect x="390" y="5" width="1" height="1" fill="#fff" opacity="0.8"/>
<rect x="381" y="12" width="8" height="8" fill="url(#bl2)"/><path d="M382.2 15.2 H388 V19 H386.9 V18 H383.3 V19 H382.2Z" fill="#fff"/><rect x="383.4" y="16.3" width="3.4" height="0.8" fill="url(#bl2)" opacity="0.55"/><rect x="382" y="13" width="1" height="1" fill="#fff" opacity="0.8"/>
<rect x="389" y="12" width="8" height="8" fill="url(#grn)"/><path d="M390.2 15.2 H396 V19 H394.9 V18 H391.3 V19 H390.2Z" fill="#fff"/><rect x="391.4" y="16.3" width="3.4" height="0.8" fill="url(#grn)" opacity="0.55"/><rect x="390" y="13" width="1" height="1" fill="#fff" opacity="0.8"/>
<g fill="none" stroke="#4d4d4d" stroke-width="1.2"><path d="M419.5 20 V7"/><path d="M417 17.5 H430"/></g><path d="M417.7 8.8 L419.5 6 L421.3 8.8Z M428.2 15.7 L431 17.5 L428.2 19.3Z" fill="#4d4d4d"/>
<path d="M424.5 8.5 L427.8 11.5 L424.5 14.5Z" fill="#7fe07f" stroke="#0a8a0a" stroke-width="1"/>
<g fill="none" stroke="#4d4d4d" stroke-width="1.2"><path d="M447.5 20 V7"/><path d="M445 17.5 H458"/></g><path d="M445.7 8.8 L447.5 6 L449.3 8.8Z M456.2 15.7 L459 17.5 L456.2 19.3Z" fill="#4d4d4d"/>
<path d="M453.5 6 V16" stroke="#1a6aa8" stroke-width="1.2"/><path d="M459 11.5 H455 M457 9.5 L454.8 11.5 L457 13.5" stroke="#d04808" stroke-width="1.2" fill="none"/>
<path d="M478.5 4.5 H487 L489.5 7 V17.5 H478.5Z" fill="#fff" stroke="#8a8a8a"/><path d="M487 4.5 V7 H489.5" fill="#e8e8e8" stroke="#8a8a8a"/><path d="M482 6.5 Q480.8 6.5 480.8 8 V13 M481 9.5H483" stroke="#6a5a3a" stroke-width="0.9" fill="none"/>
<path d="M486 10.5 H489.5 V14.5 H493.5 V18 H489.5 V21.5 H486 V18 H482.5 V14.5 H486Z" fill="url(#gp)" stroke="#0a8a0a" stroke-width="1"/>
<path d="M500 11 H505.4 L502.7 14Z" fill="#000"/>
<path d="M539 11 H544.4 L541.7 14Z" fill="#000"/>
<path d="M578 11 H583.4 L580.7 14Z" fill="#000"/>
<path d="M884 11 H889.4 L886.7 14Z" fill="#000"/>
<circle cx="524" cy="12" r="7.7" fill="url(#clk)"/><circle cx="524" cy="12" r="7.3" fill="none" stroke="#0d4fa8" stroke-width="0.7"/><circle cx="524" cy="12" r="4.9" fill="#fff" stroke="#0d56b8" stroke-width="0.5"/><circle cx="523.2" cy="10" r="4.5" fill="#eef4fb" opacity="0.6"/><path d="M523.5 8 V11.7 H526.5" stroke="#222" stroke-width="1.1" fill="none"/><path d="M522.8 14.2 H525" stroke="#49a8f5" stroke-width="0.8"/>
<rect x="555.5" y="5.5" width="15" height="13" fill="#fff" stroke="#3a78c8" stroke-width="1"/><rect x="556" y="6" width="14" height="1.6" fill="#4a90e0"/><path d="M556 12.6 H570" stroke="#3a78c8" stroke-width="0.9"/><path d="M557.5 11 L560 11 L562 9.5 L564 10.5 L566.5 10.5 L569 9.3" stroke="#a81808" stroke-width="1.3" fill="none"/><path d="M558 16.3 L560 15.5 L562 16.2 L565 14 L568.5 16.5" stroke="#1a8a1a" stroke-width="1.3" fill="none"/>
<path d="M607 5 V17.2 L610 14.5 L612.3 19.3 L614.2 18.4 L611.9 13.8 L615.8 13.5Z" fill="#4d4d4d"/>
<path d="M639.5 5 V11 M639.5 14 V20 M632 12.5 H638 M641 12.5 H647" stroke="#4d4d4d" stroke-width="1.1"/>
<path d="M673.5 6 V19" stroke="#4d4d4d" stroke-width="1.2"/><path d="M696 12.5 H708" stroke="#4d4d4d" stroke-width="1.2"/><path d="M723.8 18.8 L736.2 6.7" stroke="#4d4d4d" stroke-width="1.2"/>
<g fill="none" stroke-linecap="round" stroke-linejoin="round"><path d="M749.8 13.5 L758 6 M754.8 18.6 L764.2 10.2" stroke="#555" stroke-width="0.9"/><path d="M751 17.3 L752.5 18.4 L752.4 11.6 M752.6 15.6 L755.6 10.6 L755.5 15.6 M755.6 13.8 L758.5 8.4 L759 14.8 M759 12.3 L761.4 8.5 L761.5 4.3 L762.3 10.6 L763.6 10.2" stroke="#3c3c3c" stroke-width="1.25"/></g>
<text x="760.6" y="21" font-size="7" font-weight="bold" fill="#222">E</text>
<path d="M779 5.5 H792.5" stroke="#4d4d4d" stroke-width="1" stroke-dasharray="1 1" shape-rendering="crispEdges"/>
<path d="M779 8.5 H792.5" stroke="#4d4d4d" stroke-width="1" stroke-dasharray="1 1" shape-rendering="crispEdges"/>
<path d="M779 12.5 H792.5" stroke="#4d4d4d" stroke-width="1" stroke-dasharray="1 1" shape-rendering="crispEdges"/>
<path d="M779 16.5 H787.5" stroke="#4d4d4d" stroke-width="1" stroke-dasharray="1 1" shape-rendering="crispEdges"/>
<text x="788.6" y="21" font-size="7" font-weight="bold" fill="#222">F</text>
<path d="M810.3 16.9 L813.55 8.3 L816.8 16.9 M811.6 13.7 H815.5" stroke="#555" stroke-width="1.35" fill="none" stroke-linejoin="miter"/>
<path d="M836 6.5H848M836 18.5H848M836.5 6V19M847.5 6V19" fill="none" stroke="#4d4d4d" stroke-width="1" stroke-dasharray="1 1" shape-rendering="crispEdges"/><rect x="835" y="5" width="2" height="2" fill="#4d4d4d"/><path d="M838.3 9.8 H845.7 M842 9.8 V16.8" stroke="#4d4d4d" stroke-width="1.4"/>
<path d="M863.3 9.5 L866.7 6 L870.1 9.5 L866.7 10.6Z M870.5 16 L873.9 19.2 L877.3 16 L873.9 14.6Z" fill="#4d4d4d"/><path d="M865.5 13.6 L867.5 15.6 L872 10.2" stroke="#4d4d4d" stroke-width="1.2" fill="none"/>
<text x="911" y="16" font-size="9.8" fill="#2c2c2c" textLength="12.1" lengthAdjust="spacingAndGlyphs">M1</text>
<text x="939.2" y="16" font-size="9.8" fill="#2c2c2c" textLength="12.1" lengthAdjust="spacingAndGlyphs">M5</text>
<text x="965.2" y="16" font-size="9.8" fill="#2c2c2c" textLength="17.1" lengthAdjust="spacingAndGlyphs">M15</text>
<text x="993.1" y="16" font-size="9.8" fill="#2c2c2c" textLength="17.2" lengthAdjust="spacingAndGlyphs">M30</text>
<text x="1024.3" y="16" font-size="9.8" fill="#2c2c2c" textLength="10.9" lengthAdjust="spacingAndGlyphs">H1</text>
<text x="1051.2" y="16" font-size="9.8" fill="#2c2c2c" textLength="12" lengthAdjust="spacingAndGlyphs">H4</text>
<text x="1080.2" y="16" font-size="9.8" fill="#2c2c2c" textLength="11.1" lengthAdjust="spacingAndGlyphs">D1</text>
<text x="1106.7" y="16" font-size="9.8" fill="#2c2c2c" textLength="14.6" lengthAdjust="spacingAndGlyphs">W1</text>
<text x="1134.1" y="16" font-size="9.8" fill="#2c2c2c" textLength="13.9" lengthAdjust="spacingAndGlyphs">MN</text>
<path d="M1623.3 12.6 L1619 16.8" stroke="#2a5bd7" stroke-width="2.6" stroke-linecap="round"/><circle cx="1626.6" cy="9.4" r="3.9" fill="#fdfdff" stroke="#2a5bd7" stroke-width="1.3"/>
<path d="M1660.5 13.5 L1662.5 15.8 L1662 13.3" fill="#707070"/><ellipse cx="1659" cy="8.9" rx="6.6" ry="4.6" fill="url(#bub)" stroke="#7c7c7c" stroke-width="1.1"/><path d="M1648 16 L1647 18.8 L1650 16.3" fill="#707070"/><ellipse cx="1650.3" cy="12.8" rx="5.2" ry="3.7" fill="url(#bub)" stroke="#7c7c7c" stroke-width="1.1"/>
</svg>
</body></html>
